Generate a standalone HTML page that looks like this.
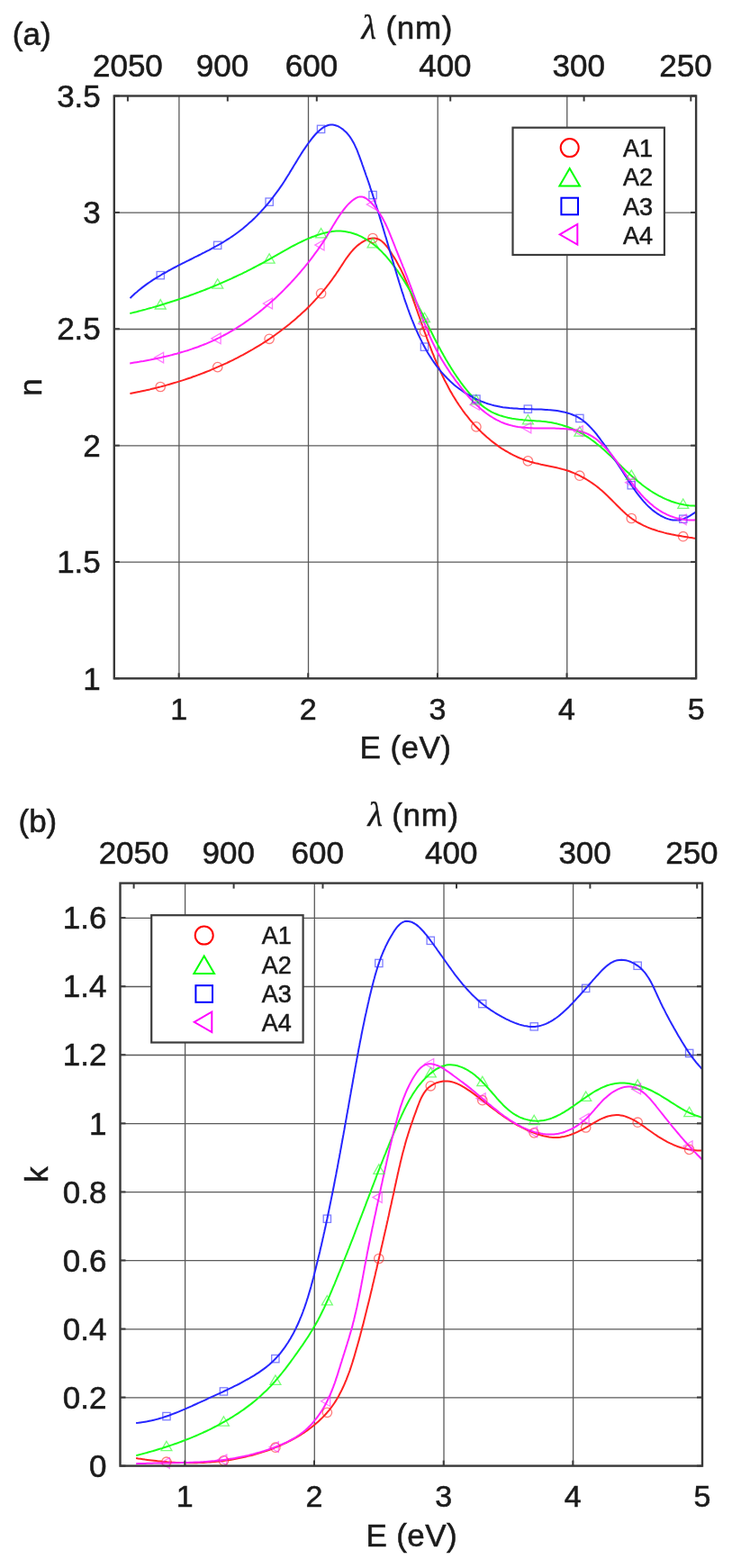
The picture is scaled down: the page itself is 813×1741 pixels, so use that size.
<!DOCTYPE html>
<html><head><meta charset="utf-8"><title>Optical constants n and k</title>
<style>html,body{margin:0;padding:0;background:#fff}svg{display:block}</style></head>
<body>
<svg width="813" height="1741" viewBox="0 0 813 1741">
<rect width="813" height="1741" fill="#fff"/>
<g>
<g id="panel-a">
<line x1="198.9" y1="106.5" x2="198.9" y2="753.3" stroke="#5a5a5a" stroke-width="1.3"/>
<line x1="342.5" y1="106.5" x2="342.5" y2="753.3" stroke="#5a5a5a" stroke-width="1.3"/>
<line x1="486.2" y1="106.5" x2="486.2" y2="753.3" stroke="#5a5a5a" stroke-width="1.3"/>
<line x1="629.8" y1="106.5" x2="629.8" y2="753.3" stroke="#5a5a5a" stroke-width="1.3"/>
<line x1="126.8" y1="624.2" x2="773.1" y2="624.2" stroke="#5a5a5a" stroke-width="1.3"/>
<line x1="126.8" y1="494.9" x2="773.1" y2="494.9" stroke="#5a5a5a" stroke-width="1.3"/>
<line x1="126.8" y1="365.5" x2="773.1" y2="365.5" stroke="#5a5a5a" stroke-width="1.3"/>
<line x1="126.8" y1="236.2" x2="773.1" y2="236.2" stroke="#5a5a5a" stroke-width="1.3"/>
<path d="M144.4 437.0 L146.9 436.5 L149.3 436.0 L151.8 435.5 L154.2 435.1 L156.6 434.5 L159.1 434.0 L161.5 433.5 L163.9 432.9 L166.4 432.4 L168.8 431.8 L171.2 431.2 L173.7 430.6 L176.1 430.0 L178.5 429.4 L180.9 428.7 L183.4 428.1 L185.8 427.4 L188.2 426.7 L190.6 426.0 L193.0 425.3 L195.4 424.6 L197.8 423.9 L200.2 423.1 L202.6 422.4 L205.0 421.6 L207.4 420.8 L209.8 420.0 L212.2 419.2 L214.5 418.3 L216.9 417.5 L219.3 416.6 L221.6 415.8 L224.0 414.9 L226.3 414.0 L228.7 413.0 L231.0 412.1 L233.4 411.2 L235.7 410.2 L238.0 409.2 L240.3 408.2 L242.6 407.2 L244.9 406.2 L247.2 405.2 L249.5 404.1 L251.8 403.1 L254.0 402.0 L256.3 400.9 L258.6 399.8 L260.8 398.7 L263.0 397.6 L265.3 396.4 L267.5 395.2 L269.7 394.1 L271.9 392.9 L274.1 391.7 L276.3 390.4 L278.5 389.2 L280.6 388.0 L282.8 386.7 L284.9 385.4 L287.1 384.1 L289.2 382.8 L291.3 381.5 L293.4 380.1 L295.5 378.8 L297.6 377.4 L299.7 376.0 L301.7 374.6 L303.8 373.2 L305.8 371.7 L307.8 370.3 L309.9 368.8 L311.9 367.3 L313.8 365.8 L315.8 364.3 L317.8 362.8 L319.7 361.2 L321.7 359.7 L323.6 358.1 L325.5 356.5 L327.4 354.9 L329.3 353.3 L331.1 351.6 L333.0 350.0 L334.8 348.3 L336.7 346.6 L338.5 344.9 L340.3 343.2 L342.0 341.4 L343.8 339.7 L345.6 337.9 L347.3 336.1 L349.0 334.3 L350.7 332.4 L352.4 330.6 L354.1 328.7 L355.7 326.8 L357.4 324.9 L359.0 323.0 L360.6 321.1 L362.2 319.1 L363.7 317.1 L365.3 315.1 L366.8 313.1 L368.3 311.1 L369.8 309.0 L371.3 306.9 L372.8 304.8 L374.2 302.7 L375.7 300.6 L377.1 298.4 L378.5 296.3 L379.9 294.1 L381.3 292.0 L382.7 289.8 L384.1 287.7 L385.6 285.7 L387.1 283.6 L388.6 281.6 L390.2 279.7 L391.8 277.8 L393.5 276.0 L395.3 274.3 L397.1 272.6 L399.0 271.1 L401.0 269.7 L403.1 268.3 L405.3 267.1 L407.5 266.1 L409.7 265.3 L411.9 264.8 L414.2 264.5 L416.4 264.5 L418.5 264.9 L420.6 265.7 L422.6 266.8 L424.5 268.2 L426.4 270.0 L428.1 271.9 L429.9 274.0 L431.5 276.3 L433.1 278.6 L434.6 280.9 L436.0 283.2 L437.4 285.4 L438.8 287.6 L440.1 289.8 L441.3 292.0 L442.5 294.2 L443.7 296.4 L444.9 298.6 L446.0 300.8 L447.0 303.0 L448.1 305.3 L449.1 307.5 L450.1 309.8 L451.1 312.0 L452.0 314.3 L452.9 316.6 L453.8 318.9 L454.7 321.2 L455.6 323.5 L456.5 325.9 L457.3 328.2 L458.2 330.5 L459.0 332.9 L459.8 335.2 L460.7 337.6 L461.5 339.9 L462.3 342.3 L463.2 344.6 L464.0 347.0 L464.8 349.4 L465.7 351.7 L466.5 354.1 L467.3 356.5 L468.2 358.8 L469.0 361.2 L469.8 363.6 L470.7 366.0 L471.5 368.3 L472.4 370.7 L473.3 373.1 L474.1 375.4 L475.0 377.8 L475.9 380.2 L476.8 382.5 L477.7 384.9 L478.6 387.2 L479.5 389.6 L480.4 391.9 L481.4 394.2 L482.3 396.6 L483.3 398.9 L484.3 401.2 L485.2 403.5 L486.2 405.8 L487.3 408.1 L488.3 410.4 L489.3 412.7 L490.4 414.9 L491.4 417.2 L492.5 419.4 L493.6 421.7 L494.8 423.9 L495.9 426.1 L497.1 428.3 L498.2 430.5 L499.4 432.7 L500.6 434.9 L501.9 437.0 L503.1 439.2 L504.4 441.3 L505.7 443.4 L507.0 445.5 L508.4 447.6 L509.8 449.7 L511.2 451.7 L512.6 453.8 L514.0 455.8 L515.5 457.8 L517.0 459.8 L518.5 461.7 L520.1 463.7 L521.6 465.6 L523.2 467.5 L524.9 469.4 L526.5 471.3 L528.2 473.2 L530.0 475.0 L531.7 476.8 L533.5 478.6 L535.3 480.4 L537.1 482.1 L539.0 483.8 L540.9 485.5 L542.8 487.1 L544.8 488.8 L546.8 490.4 L548.8 491.9 L550.8 493.4 L552.8 494.9 L554.9 496.4 L557.0 497.8 L559.2 499.1 L561.3 500.5 L563.5 501.7 L565.7 503.0 L567.9 504.2 L570.1 505.3 L572.4 506.4 L574.7 507.5 L577.0 508.5 L579.3 509.4 L581.7 510.3 L584.0 511.2 L586.4 511.9 L588.8 512.7 L591.2 513.3 L593.6 514.0 L596.1 514.6 L598.5 515.1 L601.0 515.7 L603.5 516.2 L605.9 516.7 L608.4 517.2 L610.8 517.7 L613.3 518.2 L615.8 518.7 L618.2 519.3 L620.6 519.9 L623.0 520.5 L625.4 521.1 L627.8 521.8 L630.2 522.5 L632.5 523.3 L634.8 524.2 L637.1 525.1 L639.4 526.1 L641.6 527.1 L643.8 528.2 L646.0 529.3 L648.2 530.5 L650.3 531.7 L652.5 533.0 L654.6 534.3 L656.6 535.7 L658.7 537.1 L660.7 538.5 L662.7 540.0 L664.7 541.6 L666.6 543.2 L668.5 544.8 L670.4 546.5 L672.3 548.2 L674.1 549.9 L675.9 551.7 L677.7 553.5 L679.5 555.3 L681.3 557.1 L683.1 558.9 L684.9 560.7 L686.7 562.5 L688.5 564.3 L690.3 566.1 L692.1 567.8 L694.0 569.5 L695.8 571.2 L697.8 572.8 L699.7 574.3 L701.7 575.8 L703.7 577.2 L705.8 578.5 L707.9 579.8 L710.1 581.0 L712.3 582.2 L714.5 583.3 L716.8 584.3 L719.0 585.3 L721.4 586.3 L723.7 587.2 L726.1 588.0 L728.4 588.8 L730.8 589.6 L733.3 590.3 L735.7 590.9 L738.2 591.6 L740.6 592.2 L743.1 592.7 L745.6 593.3 L748.0 593.8 L750.5 594.3 L753.0 594.7 L755.5 595.1 L758.0 595.6 L760.4 595.9 L762.9 596.3 L765.4 596.7 L767.8 597.0 L770.2 597.4 L772.7 597.7" fill="none" stroke="#ff2222" stroke-width="2" stroke-linecap="butt" stroke-linejoin="round"/>
<path d="M144.3 348.0 L146.8 347.4 L149.2 346.8 L151.7 346.2 L154.1 345.5 L156.6 344.9 L159.0 344.2 L161.5 343.6 L163.9 342.9 L166.3 342.2 L168.7 341.6 L171.2 340.9 L173.6 340.2 L176.0 339.5 L178.4 338.7 L180.8 338.0 L183.2 337.3 L185.5 336.5 L187.9 335.8 L190.3 335.0 L192.7 334.3 L195.1 333.5 L197.4 332.7 L199.8 331.9 L202.1 331.1 L204.5 330.3 L206.8 329.5 L209.2 328.7 L211.5 327.8 L213.8 327.0 L216.2 326.1 L218.5 325.2 L220.8 324.4 L223.1 323.5 L225.5 322.6 L227.8 321.7 L230.1 320.8 L232.4 319.9 L234.7 318.9 L237.0 318.0 L239.3 317.0 L241.6 316.1 L243.8 315.1 L246.1 314.1 L248.4 313.1 L250.7 312.1 L252.9 311.1 L255.2 310.1 L257.5 309.1 L259.7 308.0 L262.0 307.0 L264.3 305.9 L266.5 304.8 L268.8 303.8 L271.0 302.7 L273.3 301.6 L275.5 300.4 L277.7 299.3 L280.0 298.2 L282.2 297.0 L284.4 295.9 L286.7 294.7 L288.9 293.5 L291.1 292.3 L293.3 291.1 L295.5 289.9 L297.8 288.7 L300.0 287.4 L302.2 286.2 L304.4 284.9 L306.6 283.7 L308.8 282.4 L311.0 281.2 L313.2 279.9 L315.4 278.6 L317.7 277.4 L319.9 276.2 L322.1 274.9 L324.3 273.7 L326.6 272.5 L328.8 271.4 L331.1 270.2 L333.3 269.1 L335.6 268.0 L337.9 266.9 L340.1 265.9 L342.4 264.9 L344.7 264.0 L347.0 263.0 L349.4 262.2 L351.7 261.3 L354.1 260.6 L356.4 259.8 L358.8 259.1 L361.2 258.5 L363.6 258.0 L366.1 257.5 L368.5 257.1 L370.9 256.8 L373.3 256.6 L375.8 256.5 L378.2 256.6 L380.6 256.7 L383.0 257.0 L385.4 257.4 L387.8 257.9 L390.1 258.5 L392.5 259.2 L394.8 260.0 L397.1 260.8 L399.4 261.8 L401.6 262.9 L403.8 264.1 L406.0 265.3 L408.2 266.6 L410.3 268.0 L412.4 269.4 L414.4 270.9 L416.4 272.5 L418.3 274.1 L420.2 275.8 L422.0 277.6 L423.9 279.3 L425.6 281.2 L427.4 283.0 L429.1 284.9 L430.7 286.9 L432.4 288.8 L434.0 290.8 L435.6 292.8 L437.1 294.8 L438.6 296.8 L440.1 298.9 L441.6 300.9 L443.0 303.0 L444.4 305.1 L445.8 307.2 L447.1 309.2 L448.5 311.4 L449.8 313.5 L451.1 315.6 L452.4 317.7 L453.7 319.9 L454.9 322.0 L456.1 324.2 L457.4 326.3 L458.6 328.5 L459.8 330.7 L460.9 332.9 L462.1 335.1 L463.3 337.3 L464.4 339.5 L465.5 341.7 L466.7 343.9 L467.8 346.1 L468.9 348.3 L470.0 350.5 L471.1 352.7 L472.2 355.0 L473.3 357.2 L474.4 359.4 L475.5 361.6 L476.6 363.9 L477.8 366.1 L478.9 368.3 L480.0 370.5 L481.1 372.8 L482.2 375.0 L483.4 377.2 L484.5 379.4 L485.7 381.6 L486.8 383.8 L488.0 386.0 L489.2 388.2 L490.4 390.4 L491.6 392.6 L492.8 394.8 L494.1 397.0 L495.3 399.2 L496.6 401.3 L497.9 403.5 L499.2 405.6 L500.5 407.8 L501.8 409.9 L503.2 412.0 L504.6 414.2 L506.0 416.3 L507.4 418.4 L508.8 420.4 L510.3 422.5 L511.8 424.6 L513.3 426.6 L514.8 428.6 L516.4 430.7 L518.0 432.7 L519.6 434.6 L521.3 436.6 L523.0 438.5 L524.7 440.4 L526.5 442.2 L528.2 444.0 L530.1 445.7 L531.9 447.4 L533.8 449.1 L535.7 450.6 L537.7 452.1 L539.7 453.5 L541.7 454.9 L543.8 456.1 L545.9 457.3 L548.0 458.3 L550.2 459.3 L552.4 460.2 L554.7 461.1 L557.0 461.8 L559.3 462.5 L561.7 463.1 L564.0 463.7 L566.4 464.2 L568.8 464.7 L571.3 465.1 L573.7 465.4 L576.2 465.8 L578.7 466.0 L581.2 466.3 L583.7 466.5 L586.2 466.7 L588.8 466.9 L591.3 467.0 L593.8 467.2 L596.4 467.4 L598.9 467.5 L601.5 467.8 L604.0 468.0 L606.5 468.3 L609.1 468.7 L611.6 469.1 L614.1 469.5 L616.6 470.1 L619.0 470.6 L621.5 471.3 L623.9 471.9 L626.4 472.7 L628.8 473.5 L631.1 474.3 L633.5 475.2 L635.8 476.2 L638.1 477.2 L640.3 478.3 L642.6 479.4 L644.8 480.5 L646.9 481.7 L649.0 483.0 L651.1 484.3 L653.2 485.7 L655.2 487.0 L657.2 488.5 L659.2 489.9 L661.2 491.4 L663.1 493.0 L665.0 494.5 L666.9 496.1 L668.8 497.7 L670.6 499.3 L672.5 501.0 L674.3 502.7 L676.2 504.4 L678.0 506.1 L679.8 507.8 L681.6 509.5 L683.4 511.2 L685.2 513.0 L687.0 514.7 L688.8 516.4 L690.6 518.2 L692.4 519.9 L694.2 521.7 L696.1 523.4 L697.9 525.1 L699.7 526.8 L701.6 528.5 L703.5 530.2 L705.4 531.8 L707.3 533.4 L709.2 535.0 L711.2 536.6 L713.1 538.2 L715.1 539.7 L717.2 541.2 L719.2 542.7 L721.3 544.1 L723.4 545.5 L725.5 546.8 L727.7 548.1 L729.9 549.4 L732.1 550.6 L734.3 551.7 L736.5 552.8 L738.8 553.9 L741.1 554.9 L743.4 555.8 L745.7 556.7 L748.1 557.5 L750.5 558.3 L752.9 558.9 L755.3 559.6 L757.8 560.1 L760.2 560.6 L762.7 560.9 L765.2 561.3 L767.7 561.5 L770.3 561.6 L772.9 561.7" fill="none" stroke="#1aff1a" stroke-width="2" stroke-linecap="butt" stroke-linejoin="round"/>
<path d="M144.5 331.1 L146.3 329.3 L148.2 327.5 L150.0 325.8 L152.0 324.2 L153.9 322.6 L155.8 321.0 L157.8 319.4 L159.8 317.9 L161.8 316.4 L163.9 314.9 L165.9 313.5 L168.0 312.1 L170.1 310.7 L172.2 309.4 L174.3 308.1 L176.4 306.8 L178.6 305.5 L180.7 304.2 L182.9 303.0 L185.1 301.8 L187.3 300.5 L189.5 299.4 L191.7 298.2 L193.9 297.0 L196.1 295.8 L198.3 294.7 L200.5 293.6 L202.8 292.4 L205.0 291.3 L207.3 290.2 L209.5 289.1 L211.7 288.0 L214.0 286.8 L216.2 285.7 L218.5 284.6 L220.7 283.5 L223.0 282.4 L225.2 281.2 L227.4 280.1 L229.6 278.9 L231.9 277.8 L234.1 276.6 L236.3 275.4 L238.5 274.2 L240.6 273.0 L242.8 271.8 L245.0 270.5 L247.1 269.3 L249.3 268.0 L251.4 266.7 L253.5 265.3 L255.6 264.0 L257.7 262.6 L259.7 261.2 L261.8 259.7 L263.8 258.3 L265.8 256.8 L267.8 255.2 L269.8 253.7 L271.7 252.1 L273.6 250.4 L275.5 248.8 L277.4 247.1 L279.3 245.4 L281.1 243.7 L283.0 241.9 L284.8 240.1 L286.5 238.3 L288.3 236.5 L290.0 234.6 L291.7 232.8 L293.4 230.9 L295.1 229.0 L296.7 227.1 L298.4 225.1 L300.0 223.2 L301.5 221.2 L303.1 219.2 L304.6 217.2 L306.1 215.2 L307.6 213.2 L309.1 211.2 L310.5 209.1 L311.9 207.1 L313.3 205.1 L314.7 203.0 L316.0 201.0 L317.3 198.9 L318.6 196.8 L319.9 194.8 L321.2 192.7 L322.4 190.6 L323.7 188.5 L325.0 186.4 L326.2 184.3 L327.5 182.2 L328.8 180.1 L330.1 178.0 L331.4 175.8 L332.7 173.7 L334.1 171.5 L335.4 169.4 L336.8 167.2 L338.3 165.1 L339.8 162.9 L341.3 160.7 L342.9 158.5 L344.5 156.3 L346.2 154.1 L347.9 152.0 L349.6 150.0 L351.4 148.0 L353.3 146.2 L355.2 144.5 L357.1 142.9 L359.1 141.5 L361.1 140.4 L363.2 139.5 L365.3 138.8 L367.5 138.5 L369.7 138.6 L371.9 139.0 L374.2 139.7 L376.3 140.7 L378.5 142.0 L380.5 143.3 L382.3 144.9 L384.1 146.5 L385.8 148.3 L387.3 150.2 L388.8 152.1 L390.2 154.2 L391.5 156.4 L392.7 158.6 L393.9 160.9 L395.0 163.3 L396.1 165.7 L397.1 168.1 L398.0 170.6 L399.0 173.1 L399.9 175.6 L400.8 178.1 L401.7 180.5 L402.5 183.0 L403.4 185.4 L404.2 187.8 L405.1 190.2 L405.9 192.6 L406.7 195.0 L407.6 197.3 L408.4 199.7 L409.2 202.0 L410.0 204.4 L410.8 206.7 L411.5 209.1 L412.3 211.4 L413.1 213.7 L413.9 216.1 L414.6 218.4 L415.4 220.8 L416.2 223.1 L416.9 225.5 L417.7 227.8 L418.4 230.2 L419.2 232.6 L419.9 234.9 L420.6 237.3 L421.4 239.7 L422.1 242.1 L422.8 244.4 L423.5 246.8 L424.3 249.2 L425.0 251.6 L425.7 254.0 L426.4 256.4 L427.1 258.8 L427.8 261.2 L428.6 263.6 L429.3 266.0 L430.0 268.4 L430.7 270.8 L431.4 273.2 L432.1 275.6 L432.8 278.0 L433.5 280.4 L434.2 282.8 L434.9 285.2 L435.6 287.6 L436.3 290.0 L437.0 292.4 L437.7 294.8 L438.5 297.2 L439.2 299.6 L439.9 302.0 L440.6 304.4 L441.3 306.8 L442.1 309.2 L442.8 311.6 L443.5 314.0 L444.3 316.4 L445.0 318.8 L445.8 321.2 L446.5 323.6 L447.3 325.9 L448.1 328.3 L448.8 330.7 L449.6 333.1 L450.4 335.4 L451.3 337.8 L452.1 340.2 L452.9 342.5 L453.8 344.9 L454.6 347.2 L455.5 349.6 L456.4 351.9 L457.3 354.3 L458.3 356.6 L459.2 358.9 L460.2 361.3 L461.1 363.6 L462.1 365.9 L463.2 368.2 L464.2 370.5 L465.3 372.8 L466.4 375.1 L467.5 377.4 L468.6 379.6 L469.7 381.9 L470.9 384.1 L472.1 386.3 L473.4 388.5 L474.6 390.7 L475.9 392.9 L477.2 395.0 L478.6 397.1 L479.9 399.2 L481.3 401.3 L482.8 403.4 L484.2 405.4 L485.7 407.4 L487.3 409.4 L488.8 411.3 L490.5 413.3 L492.1 415.1 L493.8 417.0 L495.5 418.8 L497.2 420.6 L499.0 422.3 L500.8 424.1 L502.7 425.7 L504.6 427.4 L506.5 429.0 L508.5 430.5 L510.5 432.0 L512.6 433.5 L514.7 434.9 L516.8 436.3 L518.9 437.7 L521.1 438.9 L523.3 440.2 L525.5 441.4 L527.7 442.5 L530.0 443.6 L532.3 444.6 L534.6 445.6 L536.9 446.5 L539.3 447.4 L541.6 448.2 L544.0 448.9 L546.4 449.6 L548.8 450.3 L551.2 450.8 L553.6 451.3 L556.1 451.8 L558.5 452.2 L561.0 452.5 L563.4 452.8 L565.9 453.1 L568.4 453.3 L570.9 453.5 L573.4 453.6 L575.9 453.8 L578.4 453.9 L580.9 454.0 L583.4 454.1 L585.9 454.2 L588.4 454.2 L591.0 454.3 L593.5 454.4 L596.0 454.4 L598.5 454.5 L601.1 454.6 L603.6 454.7 L606.1 454.9 L608.6 455.1 L611.2 455.2 L613.7 455.5 L616.2 455.8 L618.7 456.1 L621.2 456.5 L623.6 456.9 L626.0 457.4 L628.4 458.0 L630.8 458.7 L633.1 459.4 L635.4 460.3 L637.7 461.2 L639.9 462.2 L642.0 463.4 L644.2 464.7 L646.2 466.0 L648.2 467.5 L650.2 469.1 L652.1 470.8 L653.9 472.5 L655.7 474.4 L657.5 476.3 L659.2 478.2 L660.9 480.2 L662.6 482.2 L664.2 484.3 L665.8 486.4 L667.3 488.5 L668.8 490.5 L670.3 492.6 L671.8 494.7 L673.3 496.7 L674.7 498.7 L676.1 500.7 L677.5 502.7 L678.9 504.7 L680.3 506.6 L681.6 508.6 L683.0 510.6 L684.3 512.6 L685.7 514.6 L687.0 516.6 L688.3 518.6 L689.7 520.7 L691.0 522.8 L692.4 524.9 L693.7 527.0 L695.1 529.2 L696.5 531.3 L697.8 533.5 L699.2 535.7 L700.7 537.8 L702.1 540.0 L703.6 542.1 L705.1 544.2 L706.6 546.3 L708.1 548.4 L709.7 550.4 L711.3 552.4 L712.9 554.4 L714.6 556.4 L716.3 558.2 L718.0 560.1 L719.8 561.9 L721.6 563.6 L723.5 565.3 L725.4 566.9 L727.4 568.4 L729.4 569.8 L731.5 571.2 L733.6 572.5 L735.8 573.7 L738.0 574.7 L740.2 575.6 L742.5 576.4 L744.8 577.0 L747.2 577.4 L749.5 577.6 L751.9 577.6 L754.2 577.4 L756.6 576.9 L759.0 576.2 L761.3 575.2 L763.7 574.1 L766.0 572.8 L768.3 571.4 L770.6 569.9 L772.9 568.5" fill="none" stroke="#2626ff" stroke-width="2" stroke-linecap="butt" stroke-linejoin="round"/>
<path d="M144.2 403.4 L146.7 403.0 L149.2 402.6 L151.8 402.2 L154.3 401.8 L156.8 401.3 L159.3 400.9 L161.8 400.4 L164.3 399.9 L166.8 399.5 L169.3 399.0 L171.8 398.5 L174.2 398.0 L176.7 397.4 L179.2 396.9 L181.6 396.3 L184.0 395.8 L186.5 395.2 L188.9 394.6 L191.3 394.0 L193.8 393.3 L196.2 392.7 L198.6 392.0 L201.0 391.3 L203.3 390.6 L205.7 389.9 L208.1 389.2 L210.5 388.4 L212.8 387.6 L215.1 386.8 L217.5 386.0 L219.8 385.2 L222.1 384.3 L224.4 383.4 L226.7 382.5 L229.0 381.6 L231.3 380.6 L233.6 379.6 L235.8 378.6 L238.1 377.6 L240.3 376.5 L242.6 375.4 L244.8 374.3 L247.0 373.2 L249.2 372.0 L251.4 370.8 L253.6 369.6 L255.7 368.4 L257.9 367.1 L260.1 365.8 L262.2 364.5 L264.3 363.2 L266.4 361.8 L268.5 360.5 L270.6 359.1 L272.7 357.6 L274.8 356.2 L276.8 354.7 L278.9 353.3 L280.9 351.8 L282.9 350.2 L284.9 348.7 L286.9 347.2 L288.9 345.6 L290.9 344.0 L292.8 342.4 L294.8 340.8 L296.7 339.1 L298.6 337.5 L300.5 335.8 L302.4 334.1 L304.3 332.4 L306.2 330.7 L308.0 329.0 L309.8 327.2 L311.7 325.5 L313.5 323.7 L315.3 321.9 L317.0 320.1 L318.8 318.3 L320.5 316.5 L322.3 314.7 L324.0 312.8 L325.7 311.0 L327.4 309.1 L329.1 307.3 L330.7 305.4 L332.4 303.5 L334.0 301.6 L335.6 299.7 L337.2 297.8 L338.8 295.9 L340.4 293.9 L341.9 292.0 L343.4 290.1 L345.0 288.1 L346.5 286.1 L348.0 284.1 L349.4 282.2 L350.9 280.2 L352.4 278.2 L353.8 276.1 L355.2 274.1 L356.6 272.1 L358.0 270.1 L359.4 268.0 L360.7 265.9 L362.0 263.9 L363.3 261.8 L364.5 259.7 L365.8 257.6 L367.0 255.5 L368.3 253.4 L369.5 251.3 L370.8 249.2 L372.1 247.1 L373.4 244.9 L374.8 242.8 L376.2 240.6 L377.6 238.5 L379.2 236.3 L380.7 234.1 L382.4 232.0 L384.1 229.9 L385.8 227.9 L387.7 225.9 L389.5 224.2 L391.5 222.5 L393.5 221.1 L395.5 219.9 L397.6 218.9 L399.7 218.4 L401.9 218.4 L404.0 219.0 L406.1 220.0 L408.2 221.5 L410.2 223.1 L412.2 225.0 L414.0 227.0 L415.8 229.1 L417.5 231.1 L419.0 233.2 L420.5 235.2 L421.9 237.3 L423.2 239.5 L424.5 241.6 L425.7 243.7 L426.8 245.9 L427.9 248.0 L428.9 250.2 L429.9 252.4 L430.9 254.6 L431.9 256.9 L432.8 259.1 L433.7 261.3 L434.6 263.6 L435.5 265.9 L436.4 268.1 L437.3 270.4 L438.2 272.7 L439.1 275.0 L440.0 277.3 L441.0 279.7 L441.9 282.0 L442.9 284.3 L443.8 286.7 L444.8 289.0 L445.7 291.4 L446.7 293.7 L447.6 296.1 L448.6 298.4 L449.5 300.8 L450.4 303.2 L451.4 305.6 L452.3 307.9 L453.2 310.3 L454.1 312.7 L455.0 315.1 L455.9 317.4 L456.8 319.8 L457.7 322.2 L458.5 324.6 L459.4 327.0 L460.3 329.3 L461.1 331.7 L462.0 334.1 L462.9 336.4 L463.7 338.8 L464.6 341.2 L465.5 343.5 L466.4 345.9 L467.2 348.2 L468.1 350.6 L469.0 352.9 L469.9 355.3 L470.8 357.6 L471.8 359.9 L472.7 362.3 L473.6 364.6 L474.6 366.9 L475.6 369.2 L476.6 371.5 L477.6 373.8 L478.6 376.0 L479.6 378.3 L480.7 380.6 L481.8 382.8 L482.9 385.0 L484.0 387.3 L485.2 389.5 L486.4 391.7 L487.6 393.9 L488.8 396.1 L490.1 398.2 L491.4 400.4 L492.7 402.6 L494.0 404.7 L495.3 406.8 L496.7 408.9 L498.1 411.0 L499.5 413.1 L500.9 415.2 L502.3 417.2 L503.8 419.2 L505.2 421.3 L506.7 423.3 L508.2 425.2 L509.7 427.2 L511.2 429.2 L512.7 431.1 L514.3 433.0 L515.8 434.9 L517.4 436.8 L518.9 438.7 L520.5 440.5 L522.1 442.3 L523.8 444.1 L525.5 445.9 L527.2 447.7 L529.0 449.4 L530.8 451.1 L532.7 452.8 L534.6 454.5 L536.6 456.1 L538.6 457.7 L540.6 459.2 L542.7 460.7 L544.8 462.2 L547.0 463.5 L549.2 464.8 L551.4 466.1 L553.7 467.2 L556.0 468.3 L558.3 469.3 L560.6 470.2 L563.0 471.0 L565.4 471.8 L567.8 472.4 L570.2 473.0 L572.7 473.5 L575.2 473.9 L577.6 474.2 L580.1 474.5 L582.6 474.8 L585.2 475.0 L587.7 475.2 L590.2 475.3 L592.8 475.4 L595.3 475.4 L597.8 475.5 L600.4 475.5 L602.9 475.5 L605.5 475.6 L608.0 475.6 L610.5 475.6 L613.1 475.6 L615.6 475.6 L618.1 475.7 L620.6 475.8 L623.1 475.9 L625.6 476.0 L628.1 476.2 L630.6 476.4 L633.0 476.7 L635.4 477.0 L637.8 477.4 L640.2 477.8 L642.6 478.4 L644.9 479.0 L647.2 479.7 L649.5 480.5 L651.8 481.4 L654.0 482.5 L656.2 483.6 L658.3 484.9 L660.4 486.3 L662.5 487.8 L664.5 489.5 L666.4 491.2 L668.4 493.0 L670.2 494.8 L672.0 496.7 L673.8 498.6 L675.5 500.5 L677.1 502.5 L678.8 504.4 L680.3 506.4 L681.9 508.4 L683.4 510.4 L684.9 512.4 L686.3 514.4 L687.7 516.4 L689.2 518.5 L690.6 520.5 L692.0 522.5 L693.4 524.6 L694.8 526.6 L696.2 528.6 L697.6 530.7 L699.1 532.7 L700.6 534.7 L702.0 536.7 L703.5 538.7 L705.1 540.7 L706.6 542.6 L708.2 544.6 L709.9 546.5 L711.5 548.4 L713.2 550.3 L714.9 552.1 L716.7 553.9 L718.5 555.6 L720.3 557.3 L722.2 559.0 L724.1 560.6 L726.0 562.2 L728.0 563.7 L730.0 565.1 L732.1 566.5 L734.2 567.8 L736.3 569.1 L738.5 570.2 L740.8 571.3 L743.1 572.3 L745.4 573.3 L747.8 574.1 L750.2 574.9 L752.7 575.6 L755.1 576.1 L757.6 576.6 L760.1 577.0 L762.7 577.3 L765.2 577.4 L767.7 577.5 L770.3 577.4 L772.8 577.2" fill="none" stroke="#ff22ff" stroke-width="2" stroke-linecap="butt" stroke-linejoin="round"/>
<circle cx="178.2" cy="429.5" r="5.2" stroke="#ff2222" stroke-width="1.30" fill="none" opacity="0.60"/>
<circle cx="241.7" cy="407.6" r="5.2" stroke="#ff2222" stroke-width="1.30" fill="none" opacity="0.60"/>
<circle cx="299.1" cy="376.3" r="5.2" stroke="#ff2222" stroke-width="1.30" fill="none" opacity="0.60"/>
<circle cx="356.6" cy="325.8" r="5.2" stroke="#ff2222" stroke-width="1.30" fill="none" opacity="0.60"/>
<circle cx="414.0" cy="264.5" r="5.2" stroke="#ff2222" stroke-width="1.30" fill="none" opacity="0.60"/>
<circle cx="471.5" cy="368.2" r="5.2" stroke="#ff2222" stroke-width="1.30" fill="none" opacity="0.60"/>
<circle cx="528.9" cy="473.9" r="5.2" stroke="#ff2222" stroke-width="1.30" fill="none" opacity="0.60"/>
<circle cx="586.4" cy="511.9" r="5.2" stroke="#ff2222" stroke-width="1.30" fill="none" opacity="0.60"/>
<circle cx="643.8" cy="528.2" r="5.2" stroke="#ff2222" stroke-width="1.30" fill="none" opacity="0.60"/>
<circle cx="701.3" cy="575.5" r="5.2" stroke="#ff2222" stroke-width="1.30" fill="none" opacity="0.60"/>
<circle cx="758.7" cy="595.7" r="5.2" stroke="#ff2222" stroke-width="1.30" fill="none" opacity="0.60"/>
<path d="M178.2 332.6 L184.2 343.0 L172.2 343.0 Z" stroke="#1aff1a" stroke-width="1.30" fill="none" opacity="0.60"/>
<path d="M241.7 309.8 L247.7 320.2 L235.7 320.2 Z" stroke="#1aff1a" stroke-width="1.30" fill="none" opacity="0.60"/>
<path d="M299.1 281.7 L305.1 292.1 L293.2 292.1 Z" stroke="#1aff1a" stroke-width="1.30" fill="none" opacity="0.60"/>
<path d="M356.6 253.5 L362.6 263.9 L350.6 263.9 Z" stroke="#1aff1a" stroke-width="1.30" fill="none" opacity="0.60"/>
<path d="M414.0 264.5 L420.0 274.9 L408.1 274.9 Z" stroke="#1aff1a" stroke-width="1.30" fill="none" opacity="0.60"/>
<path d="M471.5 347.2 L477.5 357.6 L465.5 357.6 Z" stroke="#1aff1a" stroke-width="1.30" fill="none" opacity="0.60"/>
<path d="M528.9 438.4 L534.9 448.8 L523.0 448.8 Z" stroke="#1aff1a" stroke-width="1.30" fill="none" opacity="0.60"/>
<path d="M586.4 460.5 L592.4 470.9 L580.4 470.9 Z" stroke="#1aff1a" stroke-width="1.30" fill="none" opacity="0.60"/>
<path d="M643.8 473.8 L649.8 484.2 L637.9 484.2 Z" stroke="#1aff1a" stroke-width="1.30" fill="none" opacity="0.60"/>
<path d="M701.3 522.0 L707.3 532.4 L695.3 532.4 Z" stroke="#1aff1a" stroke-width="1.30" fill="none" opacity="0.60"/>
<path d="M758.7 554.0 L764.7 564.4 L752.8 564.4 Z" stroke="#1aff1a" stroke-width="1.30" fill="none" opacity="0.60"/>
<rect x="174.1" y="301.5" width="8.3" height="8.3" stroke="#2626ff" stroke-width="1.30" fill="none" opacity="0.60"/>
<rect x="237.5" y="268.2" width="8.3" height="8.3" stroke="#2626ff" stroke-width="1.30" fill="none" opacity="0.60"/>
<rect x="295.0" y="220.0" width="8.3" height="8.3" stroke="#2626ff" stroke-width="1.30" fill="none" opacity="0.60"/>
<rect x="352.4" y="139.2" width="8.3" height="8.3" stroke="#2626ff" stroke-width="1.30" fill="none" opacity="0.60"/>
<rect x="409.9" y="212.4" width="8.3" height="8.3" stroke="#2626ff" stroke-width="1.30" fill="none" opacity="0.60"/>
<rect x="467.3" y="381.0" width="8.3" height="8.3" stroke="#2626ff" stroke-width="1.30" fill="none" opacity="0.60"/>
<rect x="524.8" y="438.9" width="8.3" height="8.3" stroke="#2626ff" stroke-width="1.30" fill="none" opacity="0.60"/>
<rect x="582.2" y="450.0" width="8.3" height="8.3" stroke="#2626ff" stroke-width="1.30" fill="none" opacity="0.60"/>
<rect x="639.7" y="460.3" width="8.3" height="8.3" stroke="#2626ff" stroke-width="1.30" fill="none" opacity="0.60"/>
<rect x="697.1" y="534.6" width="8.3" height="8.3" stroke="#2626ff" stroke-width="1.30" fill="none" opacity="0.60"/>
<rect x="754.6" y="572.1" width="8.3" height="8.3" stroke="#2626ff" stroke-width="1.30" fill="none" opacity="0.60"/>
<path d="M171.5 397.1 L181.6 391.3 L181.6 402.9 Z" stroke="#ff22ff" stroke-width="1.30" fill="none" opacity="0.60"/>
<path d="M234.9 375.9 L245.1 370.0 L245.1 381.7 Z" stroke="#ff22ff" stroke-width="1.30" fill="none" opacity="0.60"/>
<path d="M292.4 337.0 L302.5 331.2 L302.5 342.8 Z" stroke="#ff22ff" stroke-width="1.30" fill="none" opacity="0.60"/>
<path d="M349.8 272.1 L360.0 266.3 L360.0 277.9 Z" stroke="#ff22ff" stroke-width="1.30" fill="none" opacity="0.60"/>
<path d="M407.3 227.1 L417.4 221.2 L417.4 232.9 Z" stroke="#ff22ff" stroke-width="1.30" fill="none" opacity="0.60"/>
<path d="M464.7 359.3 L474.9 353.5 L474.9 365.1 Z" stroke="#ff22ff" stroke-width="1.30" fill="none" opacity="0.60"/>
<path d="M522.2 449.4 L532.3 443.5 L532.3 455.2 Z" stroke="#ff22ff" stroke-width="1.30" fill="none" opacity="0.60"/>
<path d="M579.6 475.1 L589.8 469.3 L589.8 480.9 Z" stroke="#ff22ff" stroke-width="1.30" fill="none" opacity="0.60"/>
<path d="M637.1 478.7 L647.2 472.9 L647.2 484.5 Z" stroke="#ff22ff" stroke-width="1.30" fill="none" opacity="0.60"/>
<path d="M694.5 535.7 L704.7 529.9 L704.7 541.5 Z" stroke="#ff22ff" stroke-width="1.30" fill="none" opacity="0.60"/>
<path d="M752.0 576.8 L762.1 571.0 L762.1 582.6 Z" stroke="#ff22ff" stroke-width="1.30" fill="none" opacity="0.60"/>
<line x1="198.6" y1="753.3" x2="198.6" y2="747.3" stroke="#3a3a3a" stroke-width="2"/>
<line x1="342.2" y1="753.3" x2="342.2" y2="747.3" stroke="#3a3a3a" stroke-width="2"/>
<line x1="485.9" y1="753.3" x2="485.9" y2="747.3" stroke="#3a3a3a" stroke-width="2"/>
<line x1="629.5" y1="753.3" x2="629.5" y2="747.3" stroke="#3a3a3a" stroke-width="2"/>
<line x1="773.1" y1="753.3" x2="773.1" y2="747.3" stroke="#3a3a3a" stroke-width="2"/>
<line x1="141.9" y1="106.5" x2="141.9" y2="112.5" stroke="#3a3a3a" stroke-width="2"/>
<line x1="252.8" y1="106.5" x2="252.8" y2="112.5" stroke="#3a3a3a" stroke-width="2"/>
<line x1="351.8" y1="106.5" x2="351.8" y2="112.5" stroke="#3a3a3a" stroke-width="2"/>
<line x1="500.2" y1="106.5" x2="500.2" y2="112.5" stroke="#3a3a3a" stroke-width="2"/>
<line x1="648.6" y1="106.5" x2="648.6" y2="112.5" stroke="#3a3a3a" stroke-width="2"/>
<line x1="767.3" y1="106.5" x2="767.3" y2="112.5" stroke="#3a3a3a" stroke-width="2"/>
<line x1="126.8" y1="753.3" x2="132.8" y2="753.3" stroke="#3a3a3a" stroke-width="2"/>
<line x1="773.1" y1="753.3" x2="767.1" y2="753.3" stroke="#3a3a3a" stroke-width="2"/>
<line x1="126.8" y1="623.9" x2="132.8" y2="623.9" stroke="#3a3a3a" stroke-width="2"/>
<line x1="773.1" y1="623.9" x2="767.1" y2="623.9" stroke="#3a3a3a" stroke-width="2"/>
<line x1="126.8" y1="494.6" x2="132.8" y2="494.6" stroke="#3a3a3a" stroke-width="2"/>
<line x1="773.1" y1="494.6" x2="767.1" y2="494.6" stroke="#3a3a3a" stroke-width="2"/>
<line x1="126.8" y1="365.2" x2="132.8" y2="365.2" stroke="#3a3a3a" stroke-width="2"/>
<line x1="773.1" y1="365.2" x2="767.1" y2="365.2" stroke="#3a3a3a" stroke-width="2"/>
<line x1="126.8" y1="235.9" x2="132.8" y2="235.9" stroke="#3a3a3a" stroke-width="2"/>
<line x1="773.1" y1="235.9" x2="767.1" y2="235.9" stroke="#3a3a3a" stroke-width="2"/>
<line x1="126.8" y1="106.5" x2="132.8" y2="106.5" stroke="#3a3a3a" stroke-width="2"/>
<line x1="773.1" y1="106.5" x2="767.1" y2="106.5" stroke="#3a3a3a" stroke-width="2"/>
<rect x="126.8" y="106.5" width="646.3" height="646.8" fill="none" stroke="#383838" stroke-width="2.4"/>
<text x="198.6" y="798.8" font-size="34" text-anchor="middle" fill="#1a1a1a" stroke="#1a1a1a" stroke-width="0.55" font-family="'Liberation Sans', sans-serif">1</text>
<text x="342.2" y="798.8" font-size="34" text-anchor="middle" fill="#1a1a1a" stroke="#1a1a1a" stroke-width="0.55" font-family="'Liberation Sans', sans-serif">2</text>
<text x="485.9" y="798.8" font-size="34" text-anchor="middle" fill="#1a1a1a" stroke="#1a1a1a" stroke-width="0.55" font-family="'Liberation Sans', sans-serif">3</text>
<text x="629.5" y="798.8" font-size="34" text-anchor="middle" fill="#1a1a1a" stroke="#1a1a1a" stroke-width="0.55" font-family="'Liberation Sans', sans-serif">4</text>
<text x="773.1" y="798.8" font-size="34" text-anchor="middle" fill="#1a1a1a" stroke="#1a1a1a" stroke-width="0.55" font-family="'Liberation Sans', sans-serif">5</text>
<text x="141.9" y="85.2" font-size="35" text-anchor="middle" fill="#1a1a1a" stroke="#1a1a1a" stroke-width="0.55" font-family="'Liberation Sans', sans-serif">2050</text>
<text x="247.0" y="85.2" font-size="35" text-anchor="middle" fill="#1a1a1a" stroke="#1a1a1a" stroke-width="0.55" font-family="'Liberation Sans', sans-serif">900</text>
<text x="346.0" y="85.2" font-size="35" text-anchor="middle" fill="#1a1a1a" stroke="#1a1a1a" stroke-width="0.55" font-family="'Liberation Sans', sans-serif">600</text>
<text x="494.4" y="85.2" font-size="35" text-anchor="middle" fill="#1a1a1a" stroke="#1a1a1a" stroke-width="0.55" font-family="'Liberation Sans', sans-serif">400</text>
<text x="642.8" y="85.2" font-size="35" text-anchor="middle" fill="#1a1a1a" stroke="#1a1a1a" stroke-width="0.55" font-family="'Liberation Sans', sans-serif">300</text>
<text x="761.5" y="85.2" font-size="35" text-anchor="middle" fill="#1a1a1a" stroke="#1a1a1a" stroke-width="0.55" font-family="'Liberation Sans', sans-serif">250</text>
<text x="111.8" y="765.5" font-size="35" text-anchor="end" fill="#1a1a1a" stroke="#1a1a1a" stroke-width="0.55" font-family="'Liberation Sans', sans-serif">1</text>
<text x="111.8" y="636.1" font-size="35" text-anchor="end" fill="#1a1a1a" stroke="#1a1a1a" stroke-width="0.55" font-family="'Liberation Sans', sans-serif">1.5</text>
<text x="111.8" y="506.8" font-size="35" text-anchor="end" fill="#1a1a1a" stroke="#1a1a1a" stroke-width="0.55" font-family="'Liberation Sans', sans-serif">2</text>
<text x="111.8" y="377.4" font-size="35" text-anchor="end" fill="#1a1a1a" stroke="#1a1a1a" stroke-width="0.55" font-family="'Liberation Sans', sans-serif">2.5</text>
<text x="111.8" y="248.1" font-size="35" text-anchor="end" fill="#1a1a1a" stroke="#1a1a1a" stroke-width="0.55" font-family="'Liberation Sans', sans-serif">3</text>
<text x="111.8" y="118.7" font-size="35" text-anchor="end" fill="#1a1a1a" stroke="#1a1a1a" stroke-width="0.55" font-family="'Liberation Sans', sans-serif">3.5</text>
<text x="450.4" y="842.3" font-size="35" letter-spacing="0.4" text-anchor="middle" fill="#1a1a1a" stroke="#1a1a1a" stroke-width="0.55" font-family="'Liberation Sans', sans-serif">E (eV)</text>
<text x="401.6" y="42.9" font-size="38" fill="#1a1a1a" stroke="#1a1a1a" stroke-width="0.4" font-family="'Liberation Serif', 'DejaVu Serif', serif" font-style="italic">λ</text>
<text x="428.4" y="42.9" font-size="35" letter-spacing="0.7" fill="#1a1a1a" stroke="#1a1a1a" stroke-width="0.55" font-family="'Liberation Sans', sans-serif">(nm)</text>
<text transform="translate(45.8 429.9) rotate(-90)" font-size="35" text-anchor="middle" fill="#1a1a1a" stroke="#1a1a1a" stroke-width="0.55" font-family="'Liberation Sans', sans-serif">n</text>
<text x="13.8" y="49.5" font-size="35" fill="#1a1a1a" stroke="#1a1a1a" stroke-width="0.55" font-family="'Liberation Sans', sans-serif">(a)</text>
<rect x="569.5" y="141.7" width="168.4" height="141.3" fill="#fff" stroke="#3c3c3c" stroke-width="2.2"/>
<circle cx="632.7" cy="164.1" r="10" fill="none" stroke="#ff0000" stroke-width="2"/>
<path d="M632.7 187.1 L644.0 206.6 L621.4 206.6 Z" fill="none" stroke="#00ff00" stroke-width="2"/>
<rect x="623.4" y="219.7" width="18.6" height="18.6" fill="none" stroke="#0000ff" stroke-width="2"/>
<path d="M621.7 260.3 L641.3 249.0 L641.3 271.6 Z" fill="none" stroke="#ff00ff" stroke-width="2"/>
<text x="692.1" y="173.7" font-size="27" fill="#1a1a1a" stroke="#1a1a1a" stroke-width="0.55" font-family="'Liberation Sans', sans-serif">A1</text>
<text x="692.1" y="206.1" font-size="27" fill="#1a1a1a" stroke="#1a1a1a" stroke-width="0.55" font-family="'Liberation Sans', sans-serif">A2</text>
<text x="692.1" y="238.5" font-size="27" fill="#1a1a1a" stroke="#1a1a1a" stroke-width="0.55" font-family="'Liberation Sans', sans-serif">A3</text>
<text x="692.1" y="270.9" font-size="27" fill="#1a1a1a" stroke="#1a1a1a" stroke-width="0.55" font-family="'Liberation Sans', sans-serif">A4</text>
</g>
<g id="panel-b">
<line x1="205.6" y1="980.6" x2="205.6" y2="1627.6" stroke="#5a5a5a" stroke-width="1.3"/>
<line x1="349.3" y1="980.6" x2="349.3" y2="1627.6" stroke="#5a5a5a" stroke-width="1.3"/>
<line x1="493.0" y1="980.6" x2="493.0" y2="1627.6" stroke="#5a5a5a" stroke-width="1.3"/>
<line x1="636.6" y1="980.6" x2="636.6" y2="1627.6" stroke="#5a5a5a" stroke-width="1.3"/>
<line x1="133.5" y1="1551.8" x2="780.0" y2="1551.8" stroke="#5a5a5a" stroke-width="1.3"/>
<line x1="133.5" y1="1475.8" x2="780.0" y2="1475.8" stroke="#5a5a5a" stroke-width="1.3"/>
<line x1="133.5" y1="1399.7" x2="780.0" y2="1399.7" stroke="#5a5a5a" stroke-width="1.3"/>
<line x1="133.5" y1="1323.7" x2="780.0" y2="1323.7" stroke="#5a5a5a" stroke-width="1.3"/>
<line x1="133.5" y1="1247.6" x2="780.0" y2="1247.6" stroke="#5a5a5a" stroke-width="1.3"/>
<line x1="133.5" y1="1171.5" x2="780.0" y2="1171.5" stroke="#5a5a5a" stroke-width="1.3"/>
<line x1="133.5" y1="1095.5" x2="780.0" y2="1095.5" stroke="#5a5a5a" stroke-width="1.3"/>
<line x1="133.5" y1="1019.4" x2="780.0" y2="1019.4" stroke="#5a5a5a" stroke-width="1.3"/>
<path d="M151.1 1619.1 L153.5 1619.5 L156.0 1619.8 L158.5 1620.2 L161.0 1620.6 L163.5 1620.9 L165.9 1621.2 L168.4 1621.5 L170.9 1621.8 L173.4 1622.1 L175.9 1622.4 L178.4 1622.6 L180.9 1622.9 L183.4 1623.1 L185.9 1623.3 L188.4 1623.4 L190.9 1623.6 L193.4 1623.7 L195.9 1623.9 L198.4 1624.0 L200.9 1624.1 L203.4 1624.1 L205.9 1624.2 L208.4 1624.2 L210.9 1624.2 L213.4 1624.2 L215.9 1624.2 L218.4 1624.2 L220.9 1624.1 L223.4 1624.0 L225.9 1623.9 L228.4 1623.8 L230.9 1623.6 L233.4 1623.4 L235.9 1623.2 L238.4 1623.0 L240.9 1622.8 L243.3 1622.5 L245.8 1622.2 L248.3 1621.9 L250.8 1621.6 L253.2 1621.2 L255.7 1620.9 L258.2 1620.5 L260.6 1620.0 L263.1 1619.6 L265.5 1619.1 L268.0 1618.6 L270.4 1618.1 L272.9 1617.5 L275.3 1616.9 L277.8 1616.3 L280.2 1615.7 L282.6 1615.0 L285.0 1614.3 L287.5 1613.6 L289.9 1612.9 L292.3 1612.1 L294.7 1611.3 L297.1 1610.5 L299.4 1609.7 L301.8 1608.8 L304.2 1607.9 L306.5 1606.9 L308.9 1606.0 L311.2 1605.0 L313.5 1603.9 L315.8 1602.9 L318.1 1601.8 L320.4 1600.7 L322.6 1599.5 L324.9 1598.4 L327.1 1597.1 L329.3 1595.9 L331.4 1594.6 L333.6 1593.3 L335.7 1592.0 L337.8 1590.6 L339.8 1589.2 L341.9 1587.8 L343.9 1586.3 L345.9 1584.8 L347.8 1583.3 L349.7 1581.7 L351.6 1580.1 L353.4 1578.5 L355.2 1576.8 L357.0 1575.1 L358.7 1573.4 L360.4 1571.6 L362.1 1569.8 L363.7 1567.9 L365.3 1566.1 L366.8 1564.1 L368.3 1562.2 L369.7 1560.2 L371.1 1558.2 L372.5 1556.1 L373.8 1554.0 L375.0 1551.9 L376.3 1549.7 L377.4 1547.5 L378.6 1545.3 L379.7 1543.1 L380.8 1540.8 L381.8 1538.6 L382.8 1536.3 L383.8 1533.9 L384.8 1531.6 L385.7 1529.2 L386.6 1526.8 L387.5 1524.5 L388.4 1522.1 L389.2 1519.6 L390.0 1517.2 L390.8 1514.8 L391.6 1512.3 L392.3 1509.9 L393.1 1507.4 L393.8 1505.0 L394.5 1502.5 L395.2 1500.1 L395.9 1497.6 L396.6 1495.2 L397.3 1492.7 L398.0 1490.3 L398.7 1487.9 L399.3 1485.4 L400.0 1483.0 L400.6 1480.6 L401.3 1478.1 L401.9 1475.7 L402.5 1473.3 L403.2 1470.9 L403.8 1468.5 L404.4 1466.1 L405.0 1463.7 L405.6 1461.2 L406.2 1458.8 L406.8 1456.4 L407.4 1454.0 L408.0 1451.6 L408.6 1449.2 L409.2 1446.8 L409.8 1444.4 L410.4 1442.0 L411.0 1439.6 L411.5 1437.2 L412.1 1434.8 L412.7 1432.4 L413.3 1429.9 L413.8 1427.5 L414.4 1425.1 L415.0 1422.7 L415.5 1420.3 L416.1 1417.9 L416.7 1415.4 L417.2 1413.0 L417.8 1410.6 L418.4 1408.2 L418.9 1405.7 L419.5 1403.3 L420.1 1400.9 L420.6 1398.4 L421.2 1396.0 L421.8 1393.6 L422.3 1391.1 L422.9 1388.7 L423.4 1386.2 L424.0 1383.8 L424.6 1381.3 L425.1 1378.9 L425.7 1376.4 L426.2 1374.0 L426.8 1371.5 L427.4 1369.1 L427.9 1366.6 L428.5 1364.2 L429.0 1361.7 L429.6 1359.3 L430.1 1356.8 L430.7 1354.4 L431.2 1351.9 L431.8 1349.4 L432.3 1347.0 L432.8 1344.5 L433.4 1342.1 L433.9 1339.6 L434.5 1337.2 L435.0 1334.7 L435.5 1332.3 L436.1 1329.8 L436.6 1327.4 L437.2 1324.9 L437.7 1322.5 L438.2 1320.0 L438.7 1317.6 L439.3 1315.1 L439.8 1312.7 L440.3 1310.3 L440.9 1307.8 L441.4 1305.4 L441.9 1303.0 L442.5 1300.5 L443.0 1298.1 L443.6 1295.7 L444.2 1293.2 L444.7 1290.8 L445.3 1288.4 L445.9 1286.0 L446.5 1283.5 L447.1 1281.1 L447.7 1278.7 L448.4 1276.3 L449.0 1273.9 L449.7 1271.5 L450.3 1269.1 L451.0 1266.7 L451.7 1264.3 L452.5 1261.9 L453.2 1259.5 L454.0 1257.2 L454.7 1254.8 L455.5 1252.4 L456.3 1250.0 L457.1 1247.6 L458.0 1245.2 L458.8 1242.8 L459.6 1240.4 L460.5 1238.0 L461.4 1235.6 L462.3 1233.2 L463.1 1230.8 L464.0 1228.3 L465.0 1225.9 L465.9 1223.5 L466.9 1221.1 L468.0 1218.8 L469.2 1216.6 L470.4 1214.4 L471.8 1212.4 L473.3 1210.4 L474.9 1208.6 L476.7 1207.0 L478.6 1205.6 L480.7 1204.3 L482.9 1203.2 L485.1 1202.2 L487.5 1201.5 L489.9 1201.0 L492.3 1200.6 L494.7 1200.5 L497.1 1200.6 L499.5 1200.8 L501.8 1201.3 L504.1 1201.9 L506.4 1202.7 L508.6 1203.7 L510.8 1204.7 L513.0 1205.9 L515.2 1207.1 L517.3 1208.4 L519.4 1209.8 L521.5 1211.2 L523.6 1212.6 L525.7 1214.1 L527.7 1215.6 L529.7 1217.1 L531.8 1218.6 L533.8 1220.2 L535.8 1221.8 L537.8 1223.4 L539.9 1225.0 L541.9 1226.5 L543.9 1228.1 L545.9 1229.7 L547.9 1231.3 L550.0 1232.8 L552.0 1234.3 L554.1 1235.9 L556.1 1237.3 L558.2 1238.8 L560.3 1240.2 L562.4 1241.7 L564.5 1243.0 L566.6 1244.4 L568.7 1245.7 L570.9 1247.0 L573.0 1248.3 L575.2 1249.5 L577.4 1250.7 L579.6 1251.8 L581.8 1252.9 L584.1 1254.0 L586.3 1255.0 L588.6 1256.0 L590.9 1257.0 L593.2 1257.9 L595.6 1258.8 L597.9 1259.6 L600.3 1260.3 L602.7 1261.0 L605.1 1261.6 L607.5 1262.1 L609.9 1262.5 L612.4 1262.8 L614.8 1262.9 L617.2 1263.0 L619.7 1262.9 L622.1 1262.7 L624.5 1262.3 L626.9 1261.9 L629.4 1261.3 L631.8 1260.6 L634.2 1259.8 L636.6 1258.9 L638.9 1257.9 L641.3 1256.8 L643.6 1255.7 L645.9 1254.6 L648.2 1253.3 L650.5 1252.1 L652.8 1250.8 L655.0 1249.5 L657.2 1248.2 L659.4 1246.9 L661.6 1245.6 L663.8 1244.4 L666.0 1243.2 L668.2 1242.2 L670.5 1241.2 L672.8 1240.3 L675.1 1239.5 L677.5 1238.9 L679.9 1238.4 L682.3 1238.2 L684.6 1238.0 L687.0 1238.1 L689.4 1238.4 L691.7 1238.8 L694.0 1239.4 L696.2 1240.2 L698.5 1241.1 L700.7 1242.1 L703.0 1243.2 L705.2 1244.4 L707.3 1245.7 L709.5 1247.0 L711.7 1248.5 L713.8 1249.9 L716.0 1251.4 L718.1 1253.0 L720.2 1254.5 L722.4 1256.0 L724.5 1257.5 L726.6 1259.0 L728.7 1260.4 L730.8 1261.8 L732.9 1263.1 L735.1 1264.4 L737.2 1265.7 L739.4 1266.9 L741.5 1268.1 L743.7 1269.2 L745.9 1270.2 L748.1 1271.2 L750.4 1272.1 L752.6 1273.0 L754.9 1273.8 L757.3 1274.5 L759.6 1275.1 L762.0 1275.7 L764.5 1276.2 L767.0 1276.6 L769.5 1277.0 L772.1 1277.2 L774.7 1277.4 L777.4 1277.5 L780.1 1277.5" fill="none" stroke="#ff2222" stroke-width="2" stroke-linecap="butt" stroke-linejoin="round"/>
<path d="M151.2 1616.1 L153.6 1615.5 L156.0 1614.9 L158.3 1614.3 L160.7 1613.6 L163.1 1613.0 L165.5 1612.3 L167.9 1611.6 L170.2 1611.0 L172.6 1610.3 L175.0 1609.5 L177.4 1608.8 L179.8 1608.1 L182.2 1607.3 L184.6 1606.5 L186.9 1605.7 L189.3 1604.9 L191.7 1604.1 L194.1 1603.3 L196.5 1602.5 L198.8 1601.6 L201.2 1600.7 L203.6 1599.8 L205.9 1598.9 L208.3 1598.0 L210.6 1597.1 L213.0 1596.1 L215.3 1595.1 L217.6 1594.2 L220.0 1593.2 L222.3 1592.1 L224.6 1591.1 L226.9 1590.0 L229.2 1589.0 L231.5 1587.9 L233.7 1586.8 L236.0 1585.6 L238.2 1584.5 L240.5 1583.3 L242.7 1582.2 L244.9 1581.0 L247.1 1579.7 L249.3 1578.5 L251.5 1577.2 L253.7 1576.0 L255.8 1574.7 L258.0 1573.4 L260.1 1572.0 L262.2 1570.7 L264.3 1569.3 L266.4 1567.9 L268.4 1566.5 L270.5 1565.1 L272.5 1563.6 L274.5 1562.1 L276.5 1560.6 L278.5 1559.1 L280.4 1557.6 L282.4 1556.0 L284.3 1554.4 L286.2 1552.8 L288.0 1551.2 L289.9 1549.5 L291.7 1547.8 L293.5 1546.1 L295.3 1544.4 L297.1 1542.7 L298.8 1540.9 L300.6 1539.1 L302.3 1537.3 L303.9 1535.5 L305.6 1533.6 L307.2 1531.7 L308.8 1529.8 L310.4 1527.9 L312.0 1526.0 L313.6 1524.0 L315.1 1522.1 L316.7 1520.1 L318.2 1518.1 L319.7 1516.1 L321.2 1514.1 L322.7 1512.1 L324.2 1510.0 L325.7 1508.0 L327.1 1506.0 L328.6 1503.9 L330.1 1501.9 L331.5 1499.8 L333.0 1497.7 L334.4 1495.6 L335.9 1493.6 L337.3 1491.5 L338.7 1489.4 L340.1 1487.3 L341.5 1485.2 L342.9 1483.1 L344.2 1480.9 L345.5 1478.8 L346.9 1476.7 L348.1 1474.5 L349.4 1472.4 L350.7 1470.2 L351.9 1468.0 L353.1 1465.9 L354.2 1463.7 L355.4 1461.5 L356.5 1459.3 L357.6 1457.0 L358.7 1454.8 L359.8 1452.6 L360.8 1450.3 L361.8 1448.1 L362.9 1445.8 L363.9 1443.6 L364.9 1441.3 L365.9 1439.1 L366.8 1436.8 L367.8 1434.5 L368.8 1432.2 L369.7 1429.9 L370.7 1427.6 L371.7 1425.3 L372.6 1423.0 L373.6 1420.7 L374.5 1418.4 L375.5 1416.0 L376.4 1413.7 L377.4 1411.4 L378.3 1409.1 L379.3 1406.7 L380.2 1404.4 L381.1 1402.0 L382.1 1399.7 L383.0 1397.3 L383.9 1395.0 L384.9 1392.6 L385.8 1390.3 L386.7 1387.9 L387.7 1385.6 L388.6 1383.2 L389.5 1380.9 L390.4 1378.5 L391.4 1376.2 L392.3 1373.8 L393.2 1371.5 L394.1 1369.1 L395.0 1366.7 L395.9 1364.4 L396.8 1362.0 L397.7 1359.7 L398.6 1357.3 L399.5 1355.0 L400.4 1352.6 L401.3 1350.3 L402.2 1348.0 L403.1 1345.6 L404.0 1343.3 L404.9 1340.9 L405.8 1338.6 L406.6 1336.3 L407.5 1333.9 L408.4 1331.6 L409.3 1329.3 L410.2 1326.9 L411.1 1324.6 L411.9 1322.3 L412.8 1320.0 L413.7 1317.6 L414.6 1315.3 L415.5 1313.0 L416.4 1310.7 L417.3 1308.4 L418.1 1306.0 L419.0 1303.7 L419.9 1301.4 L420.8 1299.1 L421.7 1296.8 L422.6 1294.5 L423.6 1292.1 L424.5 1289.8 L425.4 1287.5 L426.3 1285.2 L427.2 1282.9 L428.2 1280.6 L429.1 1278.2 L430.0 1275.9 L431.0 1273.6 L431.9 1271.3 L432.9 1269.0 L433.8 1266.7 L434.8 1264.3 L435.8 1262.0 L436.8 1259.7 L437.7 1257.4 L438.7 1255.0 L439.7 1252.7 L440.8 1250.4 L441.8 1248.1 L442.8 1245.7 L443.8 1243.4 L444.9 1241.1 L445.9 1238.8 L447.0 1236.5 L448.1 1234.1 L449.2 1231.8 L450.3 1229.6 L451.5 1227.3 L452.7 1225.0 L453.9 1222.8 L455.1 1220.6 L456.4 1218.4 L457.7 1216.3 L459.0 1214.1 L460.4 1212.0 L461.8 1210.0 L463.2 1207.9 L464.7 1205.9 L466.3 1204.0 L467.9 1202.1 L469.5 1200.2 L471.2 1198.4 L472.9 1196.6 L474.7 1194.9 L476.5 1193.3 L478.5 1191.6 L480.4 1190.1 L482.4 1188.6 L484.5 1187.2 L486.7 1186.0 L488.9 1184.9 L491.1 1183.9 L493.4 1183.2 L495.7 1182.6 L498.1 1182.3 L500.5 1182.2 L503.0 1182.4 L505.4 1182.8 L507.9 1183.3 L510.3 1184.1 L512.6 1184.9 L514.9 1185.9 L517.2 1187.0 L519.3 1188.2 L521.4 1189.5 L523.5 1190.8 L525.5 1192.3 L527.5 1193.8 L529.4 1195.5 L531.3 1197.1 L533.2 1198.9 L535.0 1200.6 L536.8 1202.5 L538.6 1204.3 L540.3 1206.2 L542.1 1208.1 L543.8 1210.1 L545.5 1212.0 L547.2 1214.0 L548.9 1215.9 L550.6 1217.9 L552.2 1219.8 L553.9 1221.7 L555.6 1223.5 L557.4 1225.4 L559.1 1227.2 L560.9 1228.9 L562.7 1230.6 L564.6 1232.2 L566.5 1233.8 L568.5 1235.3 L570.5 1236.7 L572.6 1238.0 L574.8 1239.2 L577.0 1240.3 L579.4 1241.3 L581.8 1242.2 L584.3 1242.9 L586.7 1243.5 L589.3 1244.0 L591.8 1244.4 L594.3 1244.6 L596.7 1244.7 L599.1 1244.6 L601.5 1244.3 L603.9 1244.0 L606.3 1243.5 L608.6 1242.9 L610.9 1242.2 L613.2 1241.4 L615.4 1240.5 L617.7 1239.5 L619.9 1238.4 L622.1 1237.3 L624.3 1236.0 L626.5 1234.8 L628.7 1233.4 L630.9 1232.1 L633.0 1230.6 L635.2 1229.2 L637.3 1227.7 L639.4 1226.2 L641.6 1224.7 L643.7 1223.2 L645.8 1221.7 L648.0 1220.2 L650.1 1218.7 L652.3 1217.2 L654.4 1215.8 L656.6 1214.4 L658.7 1213.0 L660.9 1211.7 L663.1 1210.5 L665.3 1209.3 L667.5 1208.2 L669.8 1207.1 L672.0 1206.2 L674.3 1205.3 L676.6 1204.6 L678.9 1203.9 L681.2 1203.4 L683.6 1203.0 L686.0 1202.7 L688.4 1202.5 L690.9 1202.5 L693.3 1202.5 L695.8 1202.7 L698.3 1203.0 L700.7 1203.4 L703.2 1203.9 L705.7 1204.4 L708.2 1205.1 L710.6 1205.8 L713.1 1206.6 L715.5 1207.5 L717.9 1208.5 L720.2 1209.5 L722.6 1210.5 L724.9 1211.7 L727.1 1212.8 L729.3 1214.0 L731.5 1215.2 L733.7 1216.5 L735.8 1217.8 L737.9 1219.1 L740.0 1220.4 L742.1 1221.7 L744.2 1223.1 L746.2 1224.4 L748.3 1225.7 L750.4 1227.0 L752.5 1228.3 L754.6 1229.6 L756.7 1230.9 L758.9 1232.1 L761.0 1233.3 L763.3 1234.4 L765.5 1235.5 L767.8 1236.5 L770.1 1237.5 L772.5 1238.5 L775.0 1239.3 L777.5 1240.1 L780.0 1240.8" fill="none" stroke="#1aff1a" stroke-width="2" stroke-linecap="butt" stroke-linejoin="round"/>
<path d="M151.1 1579.9 L153.6 1579.7 L156.1 1579.4 L158.6 1579.1 L161.1 1578.7 L163.5 1578.3 L166.0 1577.8 L168.4 1577.3 L170.8 1576.7 L173.2 1576.1 L175.6 1575.5 L178.0 1574.8 L180.4 1574.1 L182.8 1573.3 L185.1 1572.5 L187.5 1571.7 L189.9 1570.8 L192.2 1569.9 L194.6 1569.0 L196.9 1568.1 L199.3 1567.1 L201.6 1566.1 L204.0 1565.1 L206.3 1564.1 L208.6 1563.1 L210.9 1562.1 L213.2 1561.1 L215.5 1560.0 L217.8 1559.0 L220.1 1557.9 L222.4 1556.9 L224.7 1555.8 L227.0 1554.8 L229.2 1553.8 L231.5 1552.7 L233.7 1551.7 L236.0 1550.7 L238.2 1549.7 L240.4 1548.7 L242.7 1547.6 L244.9 1546.6 L247.1 1545.6 L249.3 1544.5 L251.5 1543.5 L253.7 1542.4 L255.9 1541.4 L258.1 1540.3 L260.3 1539.2 L262.6 1538.1 L264.8 1537.0 L267.0 1535.8 L269.2 1534.6 L271.4 1533.4 L273.6 1532.2 L275.9 1531.0 L278.1 1529.7 L280.3 1528.4 L282.5 1527.1 L284.6 1525.7 L286.8 1524.3 L288.9 1522.9 L291.0 1521.4 L293.1 1519.9 L295.1 1518.4 L297.1 1516.8 L299.0 1515.2 L300.9 1513.5 L302.8 1511.8 L304.6 1510.0 L306.3 1508.2 L308.0 1506.4 L309.7 1504.5 L311.3 1502.6 L312.8 1500.7 L314.3 1498.7 L315.8 1496.7 L317.2 1494.6 L318.6 1492.5 L320.0 1490.5 L321.3 1488.3 L322.6 1486.2 L323.8 1484.0 L325.0 1481.9 L326.2 1479.7 L327.3 1477.5 L328.5 1475.2 L329.5 1473.0 L330.6 1470.7 L331.6 1468.5 L332.6 1466.2 L333.5 1463.9 L334.5 1461.6 L335.4 1459.3 L336.3 1457.0 L337.1 1454.7 L338.0 1452.4 L338.8 1450.0 L339.6 1447.7 L340.4 1445.3 L341.1 1443.0 L341.9 1440.6 L342.6 1438.2 L343.3 1435.9 L344.0 1433.5 L344.7 1431.1 L345.4 1428.7 L346.0 1426.3 L346.7 1423.9 L347.3 1421.5 L348.0 1419.1 L348.6 1416.7 L349.2 1414.2 L349.8 1411.8 L350.4 1409.4 L351.0 1407.0 L351.6 1404.6 L352.2 1402.1 L352.8 1399.7 L353.4 1397.3 L354.0 1394.8 L354.6 1392.4 L355.2 1390.0 L355.7 1387.5 L356.3 1385.1 L356.9 1382.7 L357.4 1380.2 L358.0 1377.8 L358.5 1375.3 L359.1 1372.9 L359.6 1370.4 L360.2 1368.0 L360.7 1365.5 L361.3 1363.1 L361.8 1360.6 L362.3 1358.2 L362.8 1355.7 L363.4 1353.3 L363.9 1350.8 L364.4 1348.3 L364.9 1345.9 L365.4 1343.4 L365.9 1341.0 L366.4 1338.5 L366.9 1336.0 L367.4 1333.6 L367.9 1331.1 L368.4 1328.6 L368.9 1326.2 L369.4 1323.7 L369.9 1321.2 L370.4 1318.8 L370.9 1316.3 L371.4 1313.8 L371.8 1311.4 L372.3 1308.9 L372.8 1306.4 L373.3 1303.9 L373.7 1301.5 L374.2 1299.0 L374.7 1296.5 L375.1 1294.1 L375.6 1291.6 L376.0 1289.1 L376.5 1286.6 L377.0 1284.2 L377.4 1281.7 L377.9 1279.2 L378.3 1276.7 L378.8 1274.3 L379.2 1271.8 L379.7 1269.3 L380.1 1266.8 L380.6 1264.3 L381.0 1261.9 L381.5 1259.4 L381.9 1256.9 L382.4 1254.4 L382.8 1252.0 L383.2 1249.5 L383.7 1247.0 L384.1 1244.6 L384.6 1242.1 L385.0 1239.6 L385.4 1237.1 L385.9 1234.7 L386.3 1232.2 L386.8 1229.7 L387.2 1227.3 L387.6 1224.8 L388.1 1222.3 L388.5 1219.8 L388.9 1217.4 L389.4 1214.9 L389.8 1212.4 L390.2 1210.0 L390.7 1207.5 L391.1 1205.1 L391.6 1202.6 L392.0 1200.1 L392.4 1197.7 L392.9 1195.2 L393.3 1192.7 L393.8 1190.3 L394.2 1187.8 L394.6 1185.4 L395.1 1182.9 L395.5 1180.5 L396.0 1178.0 L396.4 1175.6 L396.9 1173.1 L397.3 1170.7 L397.8 1168.2 L398.2 1165.8 L398.7 1163.3 L399.2 1160.9 L399.6 1158.5 L400.1 1156.0 L400.6 1153.6 L401.1 1151.2 L401.5 1148.7 L402.0 1146.3 L402.5 1143.9 L403.0 1141.4 L403.5 1139.0 L404.0 1136.6 L404.5 1134.2 L405.0 1131.7 L405.5 1129.3 L406.0 1126.9 L406.6 1124.5 L407.1 1122.1 L407.6 1119.7 L408.2 1117.3 L408.7 1114.8 L409.3 1112.4 L409.8 1110.0 L410.4 1107.6 L410.9 1105.2 L411.5 1102.9 L412.1 1100.5 L412.7 1098.1 L413.3 1095.7 L413.9 1093.3 L414.5 1090.9 L415.1 1088.5 L415.8 1086.2 L416.4 1083.8 L417.1 1081.4 L417.8 1079.0 L418.5 1076.7 L419.2 1074.3 L420.0 1071.9 L420.8 1069.6 L421.6 1067.2 L422.5 1064.9 L423.3 1062.5 L424.3 1060.2 L425.2 1057.8 L426.2 1055.5 L427.3 1053.2 L428.3 1050.8 L429.5 1048.5 L430.6 1046.2 L431.9 1043.8 L433.2 1041.5 L434.5 1039.2 L435.9 1036.9 L437.3 1034.6 L438.8 1032.3 L440.4 1030.2 L442.1 1028.2 L443.8 1026.5 L445.6 1025.0 L447.5 1023.9 L449.5 1023.1 L451.6 1022.8 L453.8 1022.9 L456.0 1023.4 L458.3 1024.3 L460.5 1025.5 L462.6 1026.9 L464.7 1028.6 L466.7 1030.5 L468.6 1032.5 L470.5 1034.5 L472.2 1036.6 L474.0 1038.7 L475.6 1040.8 L477.2 1042.9 L478.7 1045.0 L480.2 1047.0 L481.7 1049.0 L483.1 1051.0 L484.6 1053.0 L485.9 1055.0 L487.3 1056.9 L488.7 1058.9 L490.1 1060.8 L491.5 1062.8 L492.9 1064.8 L494.3 1066.8 L495.7 1068.8 L497.1 1070.8 L498.6 1072.9 L500.1 1074.9 L501.6 1077.0 L503.1 1079.0 L504.6 1081.1 L506.1 1083.1 L507.7 1085.1 L509.3 1087.2 L510.9 1089.2 L512.5 1091.1 L514.1 1093.1 L515.8 1095.0 L517.4 1096.9 L519.1 1098.8 L520.8 1100.6 L522.5 1102.4 L524.2 1104.2 L526.0 1105.9 L527.7 1107.6 L529.5 1109.2 L531.3 1110.9 L533.2 1112.4 L535.0 1114.0 L536.9 1115.5 L538.9 1117.0 L540.8 1118.5 L542.8 1119.9 L544.8 1121.3 L546.9 1122.7 L549.0 1124.0 L551.1 1125.3 L553.3 1126.6 L555.5 1127.9 L557.8 1129.2 L560.1 1130.4 L562.4 1131.6 L564.8 1132.7 L567.2 1133.9 L569.7 1134.9 L572.1 1135.9 L574.6 1136.8 L577.1 1137.6 L579.5 1138.3 L582.0 1138.9 L584.5 1139.3 L586.9 1139.7 L589.4 1139.9 L591.8 1140.0 L594.2 1139.9 L596.5 1139.6 L598.8 1139.2 L601.1 1138.6 L603.4 1137.9 L605.6 1137.1 L607.8 1136.1 L610.0 1135.0 L612.1 1133.8 L614.2 1132.6 L616.3 1131.2 L618.4 1129.7 L620.4 1128.2 L622.4 1126.6 L624.3 1124.9 L626.2 1123.2 L628.1 1121.5 L630.0 1119.7 L631.9 1117.9 L633.7 1116.0 L635.5 1114.2 L637.2 1112.3 L638.9 1110.5 L640.6 1108.6 L642.3 1106.8 L644.0 1105.0 L645.6 1103.1 L647.3 1101.3 L648.9 1099.4 L650.5 1097.6 L652.2 1095.7 L653.8 1093.9 L655.4 1092.0 L657.1 1090.1 L658.7 1088.2 L660.4 1086.3 L662.1 1084.4 L663.9 1082.5 L665.6 1080.6 L667.4 1078.6 L669.2 1076.8 L671.1 1075.0 L673.0 1073.2 L675.0 1071.6 L677.0 1070.2 L679.0 1068.9 L681.1 1067.8 L683.3 1066.9 L685.5 1066.2 L687.9 1065.9 L690.2 1065.7 L692.6 1065.9 L695.1 1066.3 L697.5 1066.9 L699.9 1067.7 L702.3 1068.8 L704.6 1069.9 L706.7 1071.3 L708.8 1072.7 L710.8 1074.3 L712.6 1076.0 L714.3 1077.8 L716.0 1079.7 L717.5 1081.6 L718.9 1083.7 L720.3 1085.8 L721.6 1087.9 L722.8 1090.1 L724.0 1092.4 L725.2 1094.7 L726.3 1097.0 L727.3 1099.3 L728.4 1101.6 L729.5 1104.0 L730.5 1106.3 L731.6 1108.6 L732.7 1110.9 L733.7 1113.2 L734.8 1115.4 L735.9 1117.7 L737.1 1119.9 L738.2 1122.1 L739.3 1124.4 L740.4 1126.6 L741.6 1128.8 L742.8 1131.0 L743.9 1133.1 L745.1 1135.3 L746.3 1137.5 L747.5 1139.6 L748.7 1141.8 L750.0 1143.9 L751.2 1146.1 L752.4 1148.2 L753.7 1150.4 L755.0 1152.5 L756.3 1154.7 L757.5 1156.8 L758.9 1159.0 L760.2 1161.1 L761.5 1163.2 L762.9 1165.4 L764.3 1167.5 L765.7 1169.5 L767.1 1171.6 L768.6 1173.6 L770.1 1175.6 L771.7 1177.6 L773.2 1179.6 L774.9 1181.5 L776.5 1183.3 L778.2 1185.2 L779.9 1187.0" fill="none" stroke="#2626ff" stroke-width="2" stroke-linecap="butt" stroke-linejoin="round"/>
<path d="M151.1 1625.2 L153.6 1625.1 L156.1 1625.0 L158.6 1625.0 L161.2 1624.9 L163.7 1624.8 L166.2 1624.7 L168.7 1624.7 L171.2 1624.6 L173.7 1624.6 L176.2 1624.6 L178.7 1624.5 L181.2 1624.5 L183.7 1624.4 L186.2 1624.4 L188.7 1624.4 L191.2 1624.3 L193.7 1624.3 L196.2 1624.2 L198.7 1624.2 L201.2 1624.1 L203.7 1624.1 L206.2 1624.0 L208.7 1623.9 L211.1 1623.8 L213.6 1623.7 L216.1 1623.6 L218.6 1623.5 L221.1 1623.4 L223.6 1623.2 L226.1 1623.1 L228.6 1622.9 L231.0 1622.7 L233.5 1622.5 L236.0 1622.3 L238.5 1622.1 L241.0 1621.8 L243.5 1621.5 L246.0 1621.2 L248.5 1620.9 L251.0 1620.6 L253.4 1620.2 L255.9 1619.8 L258.4 1619.4 L260.9 1619.0 L263.4 1618.5 L265.9 1618.0 L268.4 1617.5 L270.8 1617.0 L273.3 1616.4 L275.8 1615.9 L278.2 1615.3 L280.7 1614.6 L283.1 1614.0 L285.6 1613.3 L288.0 1612.6 L290.4 1611.9 L292.8 1611.2 L295.2 1610.4 L297.6 1609.6 L299.9 1608.8 L302.3 1608.0 L304.6 1607.1 L306.9 1606.3 L309.2 1605.4 L311.5 1604.4 L313.8 1603.5 L316.0 1602.4 L318.2 1601.4 L320.4 1600.3 L322.6 1599.2 L324.8 1598.0 L326.9 1596.8 L329.0 1595.5 L331.0 1594.2 L333.0 1592.8 L335.0 1591.3 L337.0 1589.8 L338.9 1588.2 L340.8 1586.5 L342.6 1584.8 L344.4 1583.0 L346.2 1581.1 L347.9 1579.2 L349.5 1577.2 L351.2 1575.2 L352.7 1573.1 L354.2 1571.0 L355.7 1568.9 L357.1 1566.8 L358.5 1564.6 L359.8 1562.4 L361.0 1560.2 L362.2 1558.0 L363.4 1555.8 L364.4 1553.5 L365.5 1551.3 L366.5 1549.0 L367.5 1546.7 L368.4 1544.5 L369.3 1542.2 L370.2 1539.9 L371.0 1537.6 L371.9 1535.3 L372.7 1532.9 L373.4 1530.6 L374.2 1528.3 L375.0 1525.9 L375.7 1523.6 L376.4 1521.2 L377.2 1518.9 L377.9 1516.5 L378.6 1514.1 L379.4 1511.8 L380.1 1509.4 L380.9 1507.0 L381.6 1504.6 L382.4 1502.2 L383.1 1499.9 L383.9 1497.5 L384.6 1495.1 L385.4 1492.7 L386.1 1490.3 L386.9 1487.9 L387.6 1485.4 L388.3 1483.0 L389.0 1480.6 L389.7 1478.2 L390.4 1475.8 L391.1 1473.4 L391.7 1470.9 L392.3 1468.5 L393.0 1466.1 L393.6 1463.6 L394.1 1461.2 L394.7 1458.8 L395.3 1456.3 L395.8 1453.9 L396.4 1451.5 L396.9 1449.0 L397.4 1446.6 L397.9 1444.1 L398.4 1441.7 L398.9 1439.2 L399.4 1436.8 L399.9 1434.3 L400.4 1431.8 L400.8 1429.4 L401.3 1426.9 L401.7 1424.5 L402.2 1422.0 L402.7 1419.5 L403.1 1417.1 L403.6 1414.6 L404.0 1412.2 L404.5 1409.7 L404.9 1407.2 L405.4 1404.8 L405.9 1402.3 L406.3 1399.8 L406.8 1397.3 L407.3 1394.9 L407.7 1392.4 L408.2 1389.9 L408.7 1387.5 L409.2 1385.0 L409.7 1382.5 L410.2 1380.0 L410.7 1377.6 L411.2 1375.1 L411.7 1372.6 L412.2 1370.2 L412.7 1367.7 L413.2 1365.2 L413.7 1362.8 L414.3 1360.3 L414.8 1357.8 L415.3 1355.3 L415.8 1352.9 L416.3 1350.4 L416.9 1347.9 L417.4 1345.5 L417.9 1343.0 L418.4 1340.5 L419.0 1338.1 L419.5 1335.6 L420.0 1333.2 L420.6 1330.7 L421.1 1328.2 L421.6 1325.8 L422.2 1323.3 L422.7 1320.9 L423.2 1318.4 L423.7 1316.0 L424.3 1313.5 L424.8 1311.1 L425.3 1308.6 L425.9 1306.2 L426.4 1303.8 L426.9 1301.3 L427.5 1298.9 L428.0 1296.4 L428.6 1294.0 L429.1 1291.6 L429.6 1289.2 L430.2 1286.7 L430.7 1284.3 L431.3 1281.9 L431.8 1279.5 L432.4 1277.1 L433.0 1274.6 L433.5 1272.2 L434.1 1269.8 L434.7 1267.4 L435.2 1265.0 L435.8 1262.6 L436.4 1260.2 L437.0 1257.8 L437.6 1255.5 L438.2 1253.1 L438.8 1250.7 L439.4 1248.3 L440.1 1245.9 L440.7 1243.6 L441.3 1241.2 L442.0 1238.9 L442.6 1236.5 L443.3 1234.1 L444.0 1231.8 L444.7 1229.4 L445.5 1227.1 L446.3 1224.8 L447.1 1222.4 L447.9 1220.1 L448.8 1217.8 L449.8 1215.5 L450.7 1213.1 L451.7 1210.8 L452.8 1208.5 L453.9 1206.2 L455.0 1203.9 L456.3 1201.6 L457.5 1199.3 L458.8 1197.1 L460.2 1194.8 L461.7 1192.5 L463.2 1190.3 L464.8 1188.2 L466.5 1186.3 L468.3 1184.7 L470.2 1183.3 L472.3 1182.2 L474.4 1181.6 L476.7 1181.3 L479.0 1181.3 L481.4 1181.7 L483.8 1182.4 L486.2 1183.2 L488.6 1184.3 L490.9 1185.5 L493.1 1186.9 L495.3 1188.3 L497.5 1189.8 L499.7 1191.4 L501.8 1192.9 L503.9 1194.5 L506.0 1196.0 L508.0 1197.5 L510.0 1199.0 L512.0 1200.5 L514.0 1201.9 L515.9 1203.4 L517.9 1204.9 L519.8 1206.4 L521.7 1207.9 L523.6 1209.4 L525.5 1211.0 L527.4 1212.6 L529.3 1214.2 L531.2 1215.8 L533.1 1217.4 L535.0 1219.0 L536.9 1220.6 L538.8 1222.2 L540.7 1223.9 L542.6 1225.5 L544.6 1227.1 L546.5 1228.7 L548.4 1230.3 L550.4 1231.9 L552.3 1233.4 L554.3 1235.0 L556.3 1236.5 L558.3 1238.0 L560.3 1239.5 L562.4 1240.9 L564.4 1242.4 L566.5 1243.8 L568.6 1245.1 L570.7 1246.4 L572.9 1247.7 L575.1 1249.0 L577.3 1250.1 L579.5 1251.3 L581.8 1252.4 L584.1 1253.4 L586.4 1254.4 L588.7 1255.3 L591.1 1256.1 L593.5 1256.9 L595.9 1257.6 L598.3 1258.1 L600.7 1258.6 L603.1 1259.0 L605.6 1259.3 L608.0 1259.5 L610.5 1259.6 L612.9 1259.6 L615.3 1259.4 L617.8 1259.1 L620.2 1258.7 L622.7 1258.1 L625.1 1257.5 L627.5 1256.7 L629.9 1255.7 L632.2 1254.7 L634.6 1253.6 L636.8 1252.4 L639.1 1251.1 L641.3 1249.7 L643.4 1248.2 L645.5 1246.7 L647.5 1245.1 L649.4 1243.4 L651.3 1241.7 L653.1 1240.0 L654.8 1238.2 L656.5 1236.4 L658.1 1234.6 L659.7 1232.8 L661.3 1230.9 L662.9 1229.1 L664.5 1227.2 L666.2 1225.4 L667.8 1223.6 L669.5 1221.8 L671.3 1220.1 L673.2 1218.4 L675.1 1216.7 L677.1 1215.1 L679.2 1213.5 L681.4 1212.1 L683.7 1210.8 L686.0 1209.6 L688.3 1208.6 L690.7 1207.7 L693.0 1207.1 L695.4 1206.7 L697.8 1206.5 L700.1 1206.6 L702.5 1207.0 L704.8 1207.6 L707.0 1208.5 L709.1 1209.5 L711.2 1210.7 L713.3 1212.1 L715.2 1213.6 L717.2 1215.3 L719.0 1217.1 L720.8 1218.9 L722.6 1220.8 L724.3 1222.8 L726.0 1224.9 L727.7 1226.9 L729.3 1229.0 L730.9 1231.0 L732.5 1233.0 L734.1 1235.0 L735.6 1236.9 L737.2 1238.9 L738.7 1240.8 L740.2 1242.7 L741.8 1244.6 L743.3 1246.5 L744.9 1248.5 L746.4 1250.4 L748.0 1252.3 L749.6 1254.2 L751.2 1256.1 L752.8 1258.0 L754.4 1259.9 L756.0 1261.8 L757.6 1263.7 L759.3 1265.6 L760.9 1267.5 L762.6 1269.3 L764.3 1271.2 L766.0 1273.0 L767.7 1274.9 L769.4 1276.7 L771.1 1278.6 L772.9 1280.4 L774.6 1282.2 L776.4 1284.0 L778.1 1285.7 L779.9 1287.5" fill="none" stroke="#ff22ff" stroke-width="2" stroke-linecap="butt" stroke-linejoin="round"/>
<circle cx="184.9" cy="1623.2" r="5.2" stroke="#ff2222" stroke-width="1.30" fill="none" opacity="0.60"/>
<circle cx="248.4" cy="1621.9" r="5.2" stroke="#ff2222" stroke-width="1.30" fill="none" opacity="0.60"/>
<circle cx="305.9" cy="1607.2" r="5.2" stroke="#ff2222" stroke-width="1.30" fill="none" opacity="0.60"/>
<circle cx="363.4" cy="1568.3" r="5.2" stroke="#ff2222" stroke-width="1.30" fill="none" opacity="0.60"/>
<circle cx="420.8" cy="1397.5" r="5.2" stroke="#ff2222" stroke-width="1.30" fill="none" opacity="0.60"/>
<circle cx="478.3" cy="1205.8" r="5.2" stroke="#ff2222" stroke-width="1.30" fill="none" opacity="0.60"/>
<circle cx="535.8" cy="1221.7" r="5.2" stroke="#ff2222" stroke-width="1.30" fill="none" opacity="0.60"/>
<circle cx="593.2" cy="1257.9" r="5.2" stroke="#ff2222" stroke-width="1.30" fill="none" opacity="0.60"/>
<circle cx="650.7" cy="1252.0" r="5.2" stroke="#ff2222" stroke-width="1.30" fill="none" opacity="0.60"/>
<circle cx="708.2" cy="1246.2" r="5.2" stroke="#ff2222" stroke-width="1.30" fill="none" opacity="0.60"/>
<circle cx="765.6" cy="1276.4" r="5.2" stroke="#ff2222" stroke-width="1.30" fill="none" opacity="0.60"/>
<path d="M184.9 1600.2 L190.9 1610.6 L179.0 1610.6 Z" stroke="#1aff1a" stroke-width="1.30" fill="none" opacity="0.60"/>
<path d="M248.4 1572.8 L254.4 1583.2 L242.5 1583.2 Z" stroke="#1aff1a" stroke-width="1.30" fill="none" opacity="0.60"/>
<path d="M305.9 1527.0 L311.9 1537.4 L299.9 1537.4 Z" stroke="#1aff1a" stroke-width="1.30" fill="none" opacity="0.60"/>
<path d="M363.4 1438.5 L369.3 1448.9 L357.4 1448.9 Z" stroke="#1aff1a" stroke-width="1.30" fill="none" opacity="0.60"/>
<path d="M420.8 1292.9 L426.8 1303.3 L414.9 1303.3 Z" stroke="#1aff1a" stroke-width="1.30" fill="none" opacity="0.60"/>
<path d="M478.3 1185.5 L484.3 1195.9 L472.3 1195.9 Z" stroke="#1aff1a" stroke-width="1.30" fill="none" opacity="0.60"/>
<path d="M535.8 1195.2 L541.7 1205.6 L529.8 1205.6 Z" stroke="#1aff1a" stroke-width="1.30" fill="none" opacity="0.60"/>
<path d="M593.2 1238.3 L599.2 1248.7 L587.3 1248.7 Z" stroke="#1aff1a" stroke-width="1.30" fill="none" opacity="0.60"/>
<path d="M650.7 1212.0 L656.7 1222.4 L644.7 1222.4 Z" stroke="#1aff1a" stroke-width="1.30" fill="none" opacity="0.60"/>
<path d="M708.2 1198.9 L714.1 1209.3 L702.2 1209.3 Z" stroke="#1aff1a" stroke-width="1.30" fill="none" opacity="0.60"/>
<path d="M765.6 1229.3 L771.6 1239.7 L759.7 1239.7 Z" stroke="#1aff1a" stroke-width="1.30" fill="none" opacity="0.60"/>
<rect x="180.8" y="1568.4" width="8.3" height="8.3" stroke="#2626ff" stroke-width="1.30" fill="none" opacity="0.60"/>
<rect x="244.3" y="1540.8" width="8.3" height="8.3" stroke="#2626ff" stroke-width="1.30" fill="none" opacity="0.60"/>
<rect x="301.7" y="1504.5" width="8.3" height="8.3" stroke="#2626ff" stroke-width="1.30" fill="none" opacity="0.60"/>
<rect x="359.2" y="1349.1" width="8.3" height="8.3" stroke="#2626ff" stroke-width="1.30" fill="none" opacity="0.60"/>
<rect x="416.7" y="1065.3" width="8.3" height="8.3" stroke="#2626ff" stroke-width="1.30" fill="none" opacity="0.60"/>
<rect x="474.1" y="1040.2" width="8.3" height="8.3" stroke="#2626ff" stroke-width="1.30" fill="none" opacity="0.60"/>
<rect x="531.6" y="1110.4" width="8.3" height="8.3" stroke="#2626ff" stroke-width="1.30" fill="none" opacity="0.60"/>
<rect x="589.1" y="1135.7" width="8.3" height="8.3" stroke="#2626ff" stroke-width="1.30" fill="none" opacity="0.60"/>
<rect x="646.5" y="1093.2" width="8.3" height="8.3" stroke="#2626ff" stroke-width="1.30" fill="none" opacity="0.60"/>
<rect x="704.0" y="1068.1" width="8.3" height="8.3" stroke="#2626ff" stroke-width="1.30" fill="none" opacity="0.60"/>
<rect x="761.5" y="1165.3" width="8.3" height="8.3" stroke="#2626ff" stroke-width="1.30" fill="none" opacity="0.60"/>
<path d="M178.2 1624.4 L188.3 1618.6 L188.3 1630.3 Z" stroke="#ff22ff" stroke-width="1.30" fill="none" opacity="0.60"/>
<path d="M241.7 1620.9 L251.8 1615.1 L251.8 1626.7 Z" stroke="#ff22ff" stroke-width="1.30" fill="none" opacity="0.60"/>
<path d="M299.1 1606.7 L309.3 1600.8 L309.3 1612.5 Z" stroke="#ff22ff" stroke-width="1.30" fill="none" opacity="0.60"/>
<path d="M356.6 1555.7 L366.7 1549.9 L366.7 1561.5 Z" stroke="#ff22ff" stroke-width="1.30" fill="none" opacity="0.60"/>
<path d="M414.1 1329.4 L424.2 1323.6 L424.2 1335.3 Z" stroke="#ff22ff" stroke-width="1.30" fill="none" opacity="0.60"/>
<path d="M471.5 1181.3 L481.7 1175.5 L481.7 1187.1 Z" stroke="#ff22ff" stroke-width="1.30" fill="none" opacity="0.60"/>
<path d="M529.0 1219.6 L539.1 1213.8 L539.1 1225.4 Z" stroke="#ff22ff" stroke-width="1.30" fill="none" opacity="0.60"/>
<path d="M586.5 1256.8 L596.6 1251.0 L596.6 1262.6 Z" stroke="#ff22ff" stroke-width="1.30" fill="none" opacity="0.60"/>
<path d="M643.9 1242.3 L654.1 1236.4 L654.1 1248.1 Z" stroke="#ff22ff" stroke-width="1.30" fill="none" opacity="0.60"/>
<path d="M701.4 1209.0 L711.5 1203.2 L711.5 1214.9 Z" stroke="#ff22ff" stroke-width="1.30" fill="none" opacity="0.60"/>
<path d="M758.9 1272.7 L769.0 1266.8 L769.0 1278.5 Z" stroke="#ff22ff" stroke-width="1.30" fill="none" opacity="0.60"/>
<line x1="205.3" y1="1627.6" x2="205.3" y2="1621.6" stroke="#3a3a3a" stroke-width="2"/>
<line x1="349.0" y1="1627.6" x2="349.0" y2="1621.6" stroke="#3a3a3a" stroke-width="2"/>
<line x1="492.7" y1="1627.6" x2="492.7" y2="1621.6" stroke="#3a3a3a" stroke-width="2"/>
<line x1="636.3" y1="1627.6" x2="636.3" y2="1621.6" stroke="#3a3a3a" stroke-width="2"/>
<line x1="780.0" y1="1627.6" x2="780.0" y2="1621.6" stroke="#3a3a3a" stroke-width="2"/>
<line x1="148.6" y1="980.6" x2="148.6" y2="986.6" stroke="#3a3a3a" stroke-width="2"/>
<line x1="259.6" y1="980.6" x2="259.6" y2="986.6" stroke="#3a3a3a" stroke-width="2"/>
<line x1="358.5" y1="980.6" x2="358.5" y2="986.6" stroke="#3a3a3a" stroke-width="2"/>
<line x1="507.0" y1="980.6" x2="507.0" y2="986.6" stroke="#3a3a3a" stroke-width="2"/>
<line x1="655.4" y1="980.6" x2="655.4" y2="986.6" stroke="#3a3a3a" stroke-width="2"/>
<line x1="774.2" y1="980.6" x2="774.2" y2="986.6" stroke="#3a3a3a" stroke-width="2"/>
<line x1="133.5" y1="1627.6" x2="139.5" y2="1627.6" stroke="#3a3a3a" stroke-width="2"/>
<line x1="780.0" y1="1627.6" x2="774.0" y2="1627.6" stroke="#3a3a3a" stroke-width="2"/>
<line x1="133.5" y1="1551.5" x2="139.5" y2="1551.5" stroke="#3a3a3a" stroke-width="2"/>
<line x1="780.0" y1="1551.5" x2="774.0" y2="1551.5" stroke="#3a3a3a" stroke-width="2"/>
<line x1="133.5" y1="1475.5" x2="139.5" y2="1475.5" stroke="#3a3a3a" stroke-width="2"/>
<line x1="780.0" y1="1475.5" x2="774.0" y2="1475.5" stroke="#3a3a3a" stroke-width="2"/>
<line x1="133.5" y1="1399.4" x2="139.5" y2="1399.4" stroke="#3a3a3a" stroke-width="2"/>
<line x1="780.0" y1="1399.4" x2="774.0" y2="1399.4" stroke="#3a3a3a" stroke-width="2"/>
<line x1="133.5" y1="1323.4" x2="139.5" y2="1323.4" stroke="#3a3a3a" stroke-width="2"/>
<line x1="780.0" y1="1323.4" x2="774.0" y2="1323.4" stroke="#3a3a3a" stroke-width="2"/>
<line x1="133.5" y1="1247.3" x2="139.5" y2="1247.3" stroke="#3a3a3a" stroke-width="2"/>
<line x1="780.0" y1="1247.3" x2="774.0" y2="1247.3" stroke="#3a3a3a" stroke-width="2"/>
<line x1="133.5" y1="1171.2" x2="139.5" y2="1171.2" stroke="#3a3a3a" stroke-width="2"/>
<line x1="780.0" y1="1171.2" x2="774.0" y2="1171.2" stroke="#3a3a3a" stroke-width="2"/>
<line x1="133.5" y1="1095.2" x2="139.5" y2="1095.2" stroke="#3a3a3a" stroke-width="2"/>
<line x1="780.0" y1="1095.2" x2="774.0" y2="1095.2" stroke="#3a3a3a" stroke-width="2"/>
<line x1="133.5" y1="1019.1" x2="139.5" y2="1019.1" stroke="#3a3a3a" stroke-width="2"/>
<line x1="780.0" y1="1019.1" x2="774.0" y2="1019.1" stroke="#3a3a3a" stroke-width="2"/>
<rect x="133.5" y="980.6" width="646.5" height="647.0" fill="none" stroke="#383838" stroke-width="2.4"/>
<text x="205.3" y="1673.1" font-size="34" text-anchor="middle" fill="#1a1a1a" stroke="#1a1a1a" stroke-width="0.55" font-family="'Liberation Sans', sans-serif">1</text>
<text x="349.0" y="1673.1" font-size="34" text-anchor="middle" fill="#1a1a1a" stroke="#1a1a1a" stroke-width="0.55" font-family="'Liberation Sans', sans-serif">2</text>
<text x="492.7" y="1673.1" font-size="34" text-anchor="middle" fill="#1a1a1a" stroke="#1a1a1a" stroke-width="0.55" font-family="'Liberation Sans', sans-serif">3</text>
<text x="636.3" y="1673.1" font-size="34" text-anchor="middle" fill="#1a1a1a" stroke="#1a1a1a" stroke-width="0.55" font-family="'Liberation Sans', sans-serif">4</text>
<text x="780.0" y="1673.1" font-size="34" text-anchor="middle" fill="#1a1a1a" stroke="#1a1a1a" stroke-width="0.55" font-family="'Liberation Sans', sans-serif">5</text>
<text x="148.6" y="959.3" font-size="35" text-anchor="middle" fill="#1a1a1a" stroke="#1a1a1a" stroke-width="0.55" font-family="'Liberation Sans', sans-serif">2050</text>
<text x="253.8" y="959.3" font-size="35" text-anchor="middle" fill="#1a1a1a" stroke="#1a1a1a" stroke-width="0.55" font-family="'Liberation Sans', sans-serif">900</text>
<text x="352.7" y="959.3" font-size="35" text-anchor="middle" fill="#1a1a1a" stroke="#1a1a1a" stroke-width="0.55" font-family="'Liberation Sans', sans-serif">600</text>
<text x="501.2" y="959.3" font-size="35" text-anchor="middle" fill="#1a1a1a" stroke="#1a1a1a" stroke-width="0.55" font-family="'Liberation Sans', sans-serif">400</text>
<text x="649.6" y="959.3" font-size="35" text-anchor="middle" fill="#1a1a1a" stroke="#1a1a1a" stroke-width="0.55" font-family="'Liberation Sans', sans-serif">300</text>
<text x="768.4" y="959.3" font-size="35" text-anchor="middle" fill="#1a1a1a" stroke="#1a1a1a" stroke-width="0.55" font-family="'Liberation Sans', sans-serif">250</text>
<text x="118.5" y="1639.8" font-size="35" text-anchor="end" fill="#1a1a1a" stroke="#1a1a1a" stroke-width="0.55" font-family="'Liberation Sans', sans-serif">0</text>
<text x="118.5" y="1563.7" font-size="35" text-anchor="end" fill="#1a1a1a" stroke="#1a1a1a" stroke-width="0.55" font-family="'Liberation Sans', sans-serif">0.2</text>
<text x="118.5" y="1487.7" font-size="35" text-anchor="end" fill="#1a1a1a" stroke="#1a1a1a" stroke-width="0.55" font-family="'Liberation Sans', sans-serif">0.4</text>
<text x="118.5" y="1411.6" font-size="35" text-anchor="end" fill="#1a1a1a" stroke="#1a1a1a" stroke-width="0.55" font-family="'Liberation Sans', sans-serif">0.6</text>
<text x="118.5" y="1335.6" font-size="35" text-anchor="end" fill="#1a1a1a" stroke="#1a1a1a" stroke-width="0.55" font-family="'Liberation Sans', sans-serif">0.8</text>
<text x="118.5" y="1259.5" font-size="35" text-anchor="end" fill="#1a1a1a" stroke="#1a1a1a" stroke-width="0.55" font-family="'Liberation Sans', sans-serif">1</text>
<text x="118.5" y="1183.4" font-size="35" text-anchor="end" fill="#1a1a1a" stroke="#1a1a1a" stroke-width="0.55" font-family="'Liberation Sans', sans-serif">1.2</text>
<text x="118.5" y="1107.4" font-size="35" text-anchor="end" fill="#1a1a1a" stroke="#1a1a1a" stroke-width="0.55" font-family="'Liberation Sans', sans-serif">1.4</text>
<text x="118.5" y="1031.3" font-size="35" text-anchor="end" fill="#1a1a1a" stroke="#1a1a1a" stroke-width="0.55" font-family="'Liberation Sans', sans-serif">1.6</text>
<text x="457.2" y="1716.6" font-size="35" letter-spacing="0.4" text-anchor="middle" fill="#1a1a1a" stroke="#1a1a1a" stroke-width="0.55" font-family="'Liberation Sans', sans-serif">E (eV)</text>
<text x="408.4" y="917.0" font-size="38" fill="#1a1a1a" stroke="#1a1a1a" stroke-width="0.4" font-family="'Liberation Serif', 'DejaVu Serif', serif" font-style="italic">λ</text>
<text x="435.2" y="917.0" font-size="35" letter-spacing="0.7" fill="#1a1a1a" stroke="#1a1a1a" stroke-width="0.55" font-family="'Liberation Sans', sans-serif">(nm)</text>
<text transform="translate(52.5 1304.1) rotate(-90)" font-size="35" text-anchor="middle" fill="#1a1a1a" stroke="#1a1a1a" stroke-width="0.55" font-family="'Liberation Sans', sans-serif">k</text>
<text x="20.5" y="923.6" font-size="35" fill="#1a1a1a" stroke="#1a1a1a" stroke-width="0.55" font-family="'Liberation Sans', sans-serif">(b)</text>
<rect x="168.2" y="1016.2" width="168.4" height="141.3" fill="#fff" stroke="#3c3c3c" stroke-width="2.2"/>
<circle cx="226.7" cy="1038.6" r="10" fill="none" stroke="#ff0000" stroke-width="2"/>
<path d="M226.7 1061.6 L238.0 1081.1 L215.4 1081.1 Z" fill="none" stroke="#00ff00" stroke-width="2"/>
<rect x="217.4" y="1094.2" width="18.6" height="18.6" fill="none" stroke="#0000ff" stroke-width="2"/>
<path d="M215.7 1134.8 L235.3 1123.5 L235.3 1146.1 Z" fill="none" stroke="#ff00ff" stroke-width="2"/>
<text x="290.8" y="1048.2" font-size="27" fill="#1a1a1a" stroke="#1a1a1a" stroke-width="0.55" font-family="'Liberation Sans', sans-serif">A1</text>
<text x="290.8" y="1080.6" font-size="27" fill="#1a1a1a" stroke="#1a1a1a" stroke-width="0.55" font-family="'Liberation Sans', sans-serif">A2</text>
<text x="290.8" y="1113.0" font-size="27" fill="#1a1a1a" stroke="#1a1a1a" stroke-width="0.55" font-family="'Liberation Sans', sans-serif">A3</text>
<text x="290.8" y="1145.4" font-size="27" fill="#1a1a1a" stroke="#1a1a1a" stroke-width="0.55" font-family="'Liberation Sans', sans-serif">A4</text>
</g>
</g>
</svg>
</body></html>
